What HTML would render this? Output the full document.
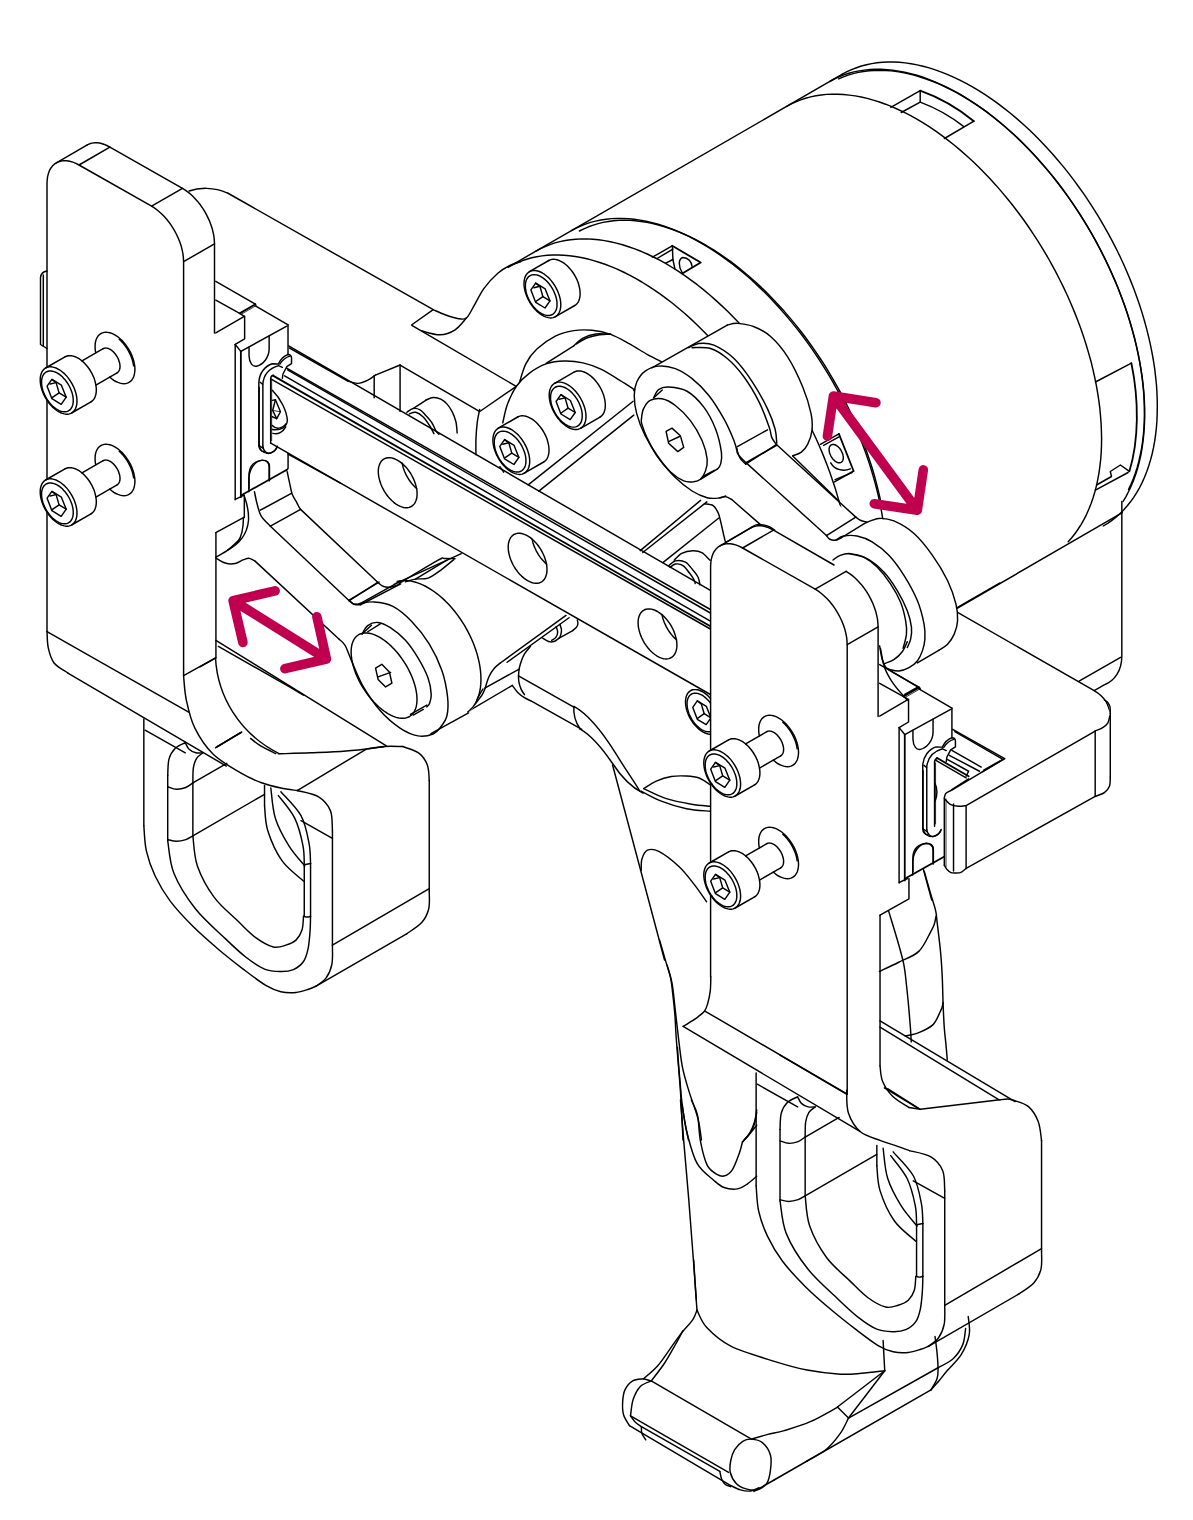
<!DOCTYPE html>
<html><head><meta charset="utf-8"><title>Gripper</title>
<style>
html,body{margin:0;padding:0;background:#fff;}
body{width:1193px;height:1520px;overflow:hidden;font-family:"Liberation Sans",sans-serif;}
svg{display:block}
svg path{fill:none;stroke:#000;stroke-width:1.45;vector-effect:non-scaling-stroke;stroke-linecap:round;stroke-linejoin:round}
svg path.ar{stroke:#c0004e;stroke-width:9.6}
svg path.t{stroke-width:0.8}
svg path.w{fill:#fff;stroke:none}
svg path.wf{fill:#fff}
svg path.b{stroke-width:1.8}
</style></head><body>
<svg width="1193" height="1520" viewBox="0 0 1193 1520">
<g transform="translate(0,0) scale(1.000000)">
<path d="M508.1,267.2 L842.4,74.2"/>
<path d="M571.5,230.6 L576.1,228.1 L580.7,226.0 L585.5,224.1 L590.5,222.4 L595.6,221.1 L600.8,220.0 L606.1,219.2 L611.5,218.6 L617.0,218.4 L622.7,218.4 L628.4,218.7 L634.2,219.3 L640.1,220.1 L646.0,221.2 L652.1,222.6 L658.1,224.3 L664.3,226.2 L670.4,228.4 L676.7,230.9 L682.9,233.6 L689.2,236.6 L695.4,239.9 L701.7,243.4 L708.0,247.1 L714.3,251.1 L720.6,255.3 L726.8,259.8 L733.0,264.5 L739.2,269.4 L745.3,274.5 L751.4,279.8 L757.4,285.4 L763.4,291.1 L769.3,297.1 L775.1,303.2 L780.8,309.5 L786.5,316.0 L792.0,322.6 L797.5,329.4 L802.8,336.3 L808.0,343.4 L813.1,350.6 L818.0,357.9 L822.8,365.4 L827.5,372.9 L832.1,380.6 L836.4,388.3 L840.7,396.1 L844.7,404.0 L848.6,412.0 L852.4,420.0 L855.9,428.0 L859.3,436.1 L862.5,444.2 L865.5,452.3 L868.3,460.4 L870.9,468.5 L873.3,476.6 L875.6,484.7 L877.6,492.7 L879.4,500.7 L881.0,508.7 L882.4,516.6 L883.6,524.4"/>
<path d="M579.4,231.0 L583.9,228.8 L588.5,226.8 L593.3,225.1 L598.1,223.6 L603.1,222.4 L608.3,221.5 L613.5,220.8 L618.8,220.4 L624.3,220.3 L629.8,220.4 L635.4,220.8 L641.1,221.5 L646.9,222.4 L652.7,223.6 L658.6,225.1 L664.5,226.8 L670.5,228.8 L676.6,231.0 L682.6,233.5 L688.7,236.2 L694.8,239.2 L700.9,242.5 L707.1,246.0 L713.2,249.7 L719.3,253.6 L725.4,257.8 L731.5,262.2 L737.6,266.8 L743.6,271.7 L749.5,276.7 L755.5,282.0 L761.3,287.4 L767.1,293.1 L772.8,298.9 L778.5,304.9 L784.1,311.1 L789.5,317.4 L794.9,323.9 L800.2,330.5 L805.4,337.3 L810.4,344.2 L815.4,351.3 L820.2,358.5 L824.9,365.7 L829.4,373.1 L833.8,380.6 L838.1,388.1 L842.2,395.7 L846.1,403.4 L849.9,411.2 L853.5,419.0 L857.0,426.8 L860.3,434.7 L863.4,442.6 L866.3,450.5 L869.0,458.4 L871.6,466.3 L874.0,474.2 L876.1,482.1 L878.1,489.9 L879.9,497.7 L881.5,505.5"/>
<path d="M786.7,106.4 L791.2,103.9 L795.9,101.8 L800.7,99.9 L805.6,98.2 L810.7,96.9 L815.9,95.8 L821.2,95.0 L826.6,94.4 L832.2,94.2 L837.8,94.2 L843.5,94.5 L849.3,95.1 L855.2,95.9 L861.2,97.0 L867.2,98.4 L873.3,100.1 L879.4,102.0 L885.6,104.2 L891.8,106.7 L898.1,109.5 L904.3,112.4 L910.6,115.7 L916.9,119.2 L923.2,122.9 L929.5,126.9 L935.8,131.2 L942.0,135.6 L948.2,140.3 L954.4,145.2 L960.5,150.4 L966.6,155.7 L972.7,161.3 L978.6,167.0 L984.5,173.0 L990.3,179.1 L996.1,185.4 L1001.7,191.9 L1007.2,198.5 L1012.7,205.3 L1018.0,212.2 L1023.2,219.3 L1028.3,226.5 L1033.2,233.9 L1038.1,241.3 L1042.7,248.9 L1047.3,256.5 L1051.7,264.3 L1055.9,272.1 L1059.9,280.0 L1063.8,287.9 L1067.6,296.0 L1071.1,304.0 L1074.5,312.1 L1077.7,320.2 L1080.7,328.3 L1083.5,336.4 L1086.1,344.5 L1088.5,352.6 L1090.8,360.7 L1092.8,368.8 L1094.6,376.8 L1096.2,384.7 L1097.6,392.6 L1098.8,400.4 L1099.8,408.2 L1100.5,415.8 L1101.1,423.4 L1101.4,430.8 L1101.6,438.2 L1101.5,445.4 L1101.2,452.5 L1100.7,459.4 L1099.9,466.2 L1099.0,472.8 L1097.8,479.3 L1096.5,485.6 L1094.9,491.7 L1093.1,497.7 L1091.1,503.4 L1088.9,509.0 L1086.6,514.3 L1084.0,519.4 L1081.2,524.3 L1078.2,529.0 L1075.1,533.5 L1071.7,537.7 L1068.2,541.7"/>
<path d="M829.8,81.5 L834.3,79.0 L839.0,76.9 L843.9,74.9 L848.8,73.3 L853.9,71.9 L859.2,70.9 L864.5,70.1 L870.0,69.5 L875.6,69.3 L881.2,69.3 L887.0,69.6 L892.8,70.2 L898.7,71.1 L904.7,72.2 L910.8,73.7 L916.9,75.3 L923.1,77.3 L929.3,79.6 L935.6,82.1 L941.8,84.8 L948.1,87.9 L954.4,91.2 L960.8,94.7 L967.1,98.5 L973.4,102.6 L979.7,106.8 L986.0,111.4 L992.2,116.1 L998.4,121.1 L1004.6,126.3 L1010.7,131.7 L1016.8,137.3 L1022.7,143.1 L1028.6,149.1 L1034.5,155.3 L1040.2,161.7 L1045.9,168.2 L1051.4,174.9 L1056.9,181.8 L1062.2,188.8 L1067.4,195.9 L1072.5,203.2 L1077.4,210.6 L1082.2,218.1 L1086.9,225.7 L1091.4,233.4 L1095.8,241.2 L1100.0,249.1 L1104.0,257.1 L1107.9,265.1 L1111.6,273.1 L1115.1,281.2 L1118.5,289.3 L1121.6,297.5 L1124.6,305.6 L1127.4,313.8 L1130.0,322.0 L1132.3,330.1 L1134.5,338.2 L1136.5,346.3 L1138.2,354.3 L1139.8,362.3 L1141.1,370.2 L1142.3,378.0 L1143.2,385.8 L1143.9,393.4 L1144.4,401.0 L1144.6,408.4 L1144.7,415.8 L1144.5,423.0 L1144.1,430.0 L1143.5,437.0 L1142.7,443.7 L1141.7,450.4 L1140.5,456.8 L1139.0,463.1 L1137.4,469.1 L1135.5,475.0 L1133.4,480.7 L1131.1,486.2 L1128.6,491.5 L1126.0,496.6 L1123.1,501.4"/>
<path d="M838.7,78.9 L843.4,76.9 L848.2,75.1 L853.2,73.6 L858.3,72.4 L863.5,71.5 L868.9,70.8 L874.3,70.5 L879.8,70.3 L885.5,70.5 L891.2,70.9 L897.0,71.6 L902.8,72.6 L908.8,73.9 L914.8,75.4 L920.8,77.2 L926.9,79.2 L933.1,81.5 L939.3,84.1 L945.5,87.0 L951.7,90.1 L957.9,93.4 L964.1,97.0 L970.4,100.8 L976.6,104.9 L982.8,109.2 L989.0,113.7 L995.1,118.5 L1001.2,123.5 L1007.3,128.7 L1013.3,134.0 L1019.2,139.6 L1025.1,145.4 L1030.9,151.4 L1036.6,157.6 L1042.3,163.9 L1047.8,170.4 L1053.3,177.0 L1058.6,183.8 L1063.8,190.8 L1068.9,197.9 L1073.9,205.1 L1078.8,212.4 L1083.5,219.8 L1088.0,227.3 L1092.5,235.0 L1096.7,242.7 L1100.9,250.5 L1104.8,258.3 L1108.6,266.2 L1112.2,274.2 L1115.7,282.1 L1118.9,290.2 L1122.0,298.2 L1124.9,306.2 L1127.6,314.3 L1130.1,322.3 L1132.4,330.3 L1134.6,338.3 L1136.5,346.3 L1138.2,354.2 L1139.7,362.1 L1141.0,369.9 L1142.1,377.6 L1143.0,385.2 L1143.7,392.8 L1144.1,400.2 L1144.4,407.5 L1144.4,414.8 L1144.3,421.9 L1143.9,428.8 L1143.3,435.6 L1142.5,442.3 L1141.5,448.8 L1140.2,455.2 L1138.8,461.4 L1137.2,467.4 L1135.3,473.2 L1133.3,478.8 L1131.0,484.2 L1128.6,489.4"/>
<path d="M842.4,74.2 L847.0,71.7 L851.6,69.6 L856.5,67.7 L861.4,66.0 L866.5,64.7 L871.7,63.6 L877.0,62.8 L882.5,62.2 L888.0,62.0 L893.6,62.0 L899.4,62.3 L905.2,62.9 L911.1,63.7 L917.1,64.9 L923.1,66.3 L929.2,67.9 L935.3,69.9 L941.5,72.1 L947.8,74.6 L954.0,77.3 L960.3,80.3 L966.6,83.6 L972.9,87.1 L979.2,90.9 L985.5,94.9 L991.7,99.1 L998.0,103.6 L1004.2,108.3 L1010.4,113.2 L1016.5,118.4 L1022.6,123.7 L1028.7,129.3 L1034.6,135.1 L1040.5,141.0 L1046.4,147.2 L1052.1,153.5 L1057.7,160.0 L1063.3,166.6 L1068.7,173.4 L1074.0,180.4 L1079.2,187.5 L1084.3,194.7 L1089.3,202.1 L1094.1,209.6 L1098.8,217.1 L1103.3,224.8 L1107.7,232.6 L1111.9,240.4 L1116.0,248.3 L1119.9,256.3 L1123.6,264.3 L1127.1,272.3 L1130.5,280.4 L1133.7,288.5 L1136.7,296.7 L1139.5,304.8 L1142.1,312.9 L1144.5,321.0 L1146.7,329.1 L1148.7,337.2 L1150.5,345.2 L1152.1,353.1 L1153.5,361.0 L1154.7,368.9 L1155.6,376.6 L1156.4,384.3 L1156.9,391.8 L1157.2,399.3 L1157.3,406.6 L1157.2,413.8 L1156.9,420.9 L1156.4,427.8 L1155.6,434.6 L1154.7,441.2 L1153.5,447.7 L1152.1,454.0 L1150.5,460.1 L1148.7,466.0 L1146.7,471.8 L1144.5,477.3 L1142.1,482.6 L1139.5,487.8 L1136.7,492.7 L1133.7,497.3 L1130.5,501.8 L1127.1,506.0 L1123.6,509.9 L1119.9,513.7 L1116.0,517.1 L1111.9,520.4 L1107.7,523.3 L1103.3,526.0"/>
<path d="M227.6,193.0 L433.3,309.7"/>
<path d="M890.8,107.3 L920.2,90.7"/>
<path d="M920.2,90.7 Q949,101 973.9,121.2" class="b"/>
<path d="M973.9,121.2 L944.4,138.5"/>
<path d="M920.2,90.7 L920.2,102.1 L901.2,112.5"/>
<path d="M920.2,102.1 Q944,111 963.5,126.4"/>
<path d="M1095.4,382 L1131.4,363.2"/>
<path d="M1131.4,363.2 C1139,400 1139,440 1129.4,471.3" class="b"/>
<path d="M1095.4,490.1 L1128.1,472.5"/>
<path d="M1096.5,485 L1111.5,476.5 L1110.3,471.5 L1120.4,465 L1129.4,471.3"/>
</g>
<g transform="translate(0,0) scale(1.000000)">
<path d="M652.4,257.2 L672.2,245.8"/>
<path d="M657.1,258.5 L672.9,249.1"/>
<path d="M672.2,245.8 L700.7,262.5 L682.3,273.6" class="b"/>
<path d="M672.4,246.5 L672.9,259.5 L674.9,268.9"/>
<path d="M665.8,263.2 L672.9,259.5"/>
<path d="M682.3,272.9 C678.2,266.2 678.2,258.8 682.9,257.5 C688.3,257.5 691.6,262.2 692,266.2"/>
<path d="M820.4,444.3 L838.9,433.9"/>
<path d="M823.6,445.4 L839.4,436.7"/>
<path d="M838.9,433.9 L853.6,471.0" class="b"/>
<path d="M853.6,471.0 L834.5,481.9"/>
<path d="M852.0,472.6 L835.1,479.7"/>
<path d="M836.2,461.8 L836.9,462.2 L837.7,462.5 L838.4,462.7 L839.1,462.8 L839.8,462.8 L840.4,462.6 L841.0,462.4 L841.5,462.1 L841.9,461.7 L842.4,461.3 L842.7,460.7 L843.0,460.0 L843.1,459.3 L843.3,458.5 L843.3,457.7 L843.3,456.8 L843.1,455.9 L843.0,455.0 L842.7,454.0 L842.4,453.1 L841.9,452.1 L841.5,451.2 L841.0,450.2 L840.4,449.4 L839.8,448.5 L839.1,447.8 L838.4,447.1 L837.7,446.4 L836.9,445.9 L836.2,445.4 L835.5,445.0 L834.7,444.7 L834.0,444.5 L833.3,444.4 L832.6,444.4 L832.0,444.6 L831.4,444.8 L830.9,445.1 L830.5,445.5 L830.1,445.9 L829.7,446.5 L829.4,447.2 L829.3,447.9 L829.1,448.7 L829.1,449.5 L829.1,450.4 L829.3,451.3 L829.4,452.2 L829.7,453.2 L830.1,454.1 L830.5,455.1 L830.9,456.0 L831.4,457.0 L832.0,457.8 L832.6,458.7 L833.3,459.4 L834.0,460.1 L834.7,460.8 L835.5,461.3 L836.2,461.8 Z"/>
<path d="M830.7,462.8 C835,470.4 843.8,471.5 850.3,468.8"/>
</g>
<g transform="translate(893,480) scale(0.251467)">
<path d="M255,510 L912,130"/>
<path d="M910,85 L910,700 C910,760 880,800 840,815 L800,838"/>
<path d="M740,800 L905,705"/>
<path d="M255,525 L800,838 C840,862 860,890 860,930"/>
</g>
<g transform="translate(0,0) scale(1.000000)">
<path d="M508.2,267.2 L512.6,264.8 L517.2,262.7 L521.9,260.8 L526.7,259.2 L531.7,257.8 L536.8,256.7 L542.0,255.9 L547.3,255.3 L552.7,255.0 L558.2,255.0 L563.8,255.2 L569.5,255.7 L575.2,256.5 L581.1,257.5 L587.0,258.8 L592.9,260.4 L598.9,262.2 L605.0,264.3 L611.1,266.6 L617.2,269.2 L623.3,272.0 L629.5,275.1 L635.6,278.4 L641.8,282.0 L648.0,285.8 L654.1,289.8 L660.3,294.1 L666.4,298.6 L672.5,303.3 L678.5,308.2 L684.5,313.3 L690.5,318.6 L696.4,324.2 L702.2,329.9 L707.9,335.8 L713.6,341.8"/>
<path d="M536.0,251.1 L540.6,248.6 L545.2,246.5 L550.0,244.6 L554.9,242.9 L560.0,241.6 L565.2,240.5 L570.5,239.7 L575.9,239.2 L581.4,238.9 L587.1,238.9 L592.8,239.2 L598.6,239.8 L604.4,240.6 L610.4,241.7 L616.4,243.1 L622.5,244.7 L628.6,246.7 L634.8,248.9 L641.0,251.3 L647.2,254.0 L653.4,257.0 L659.7,260.2 L666.0,263.7 L672.3,267.5 L678.5,271.4 L684.8,275.6 L691.0,280.1 L697.2,284.7 L703.4,289.6 L709.5,294.7 L715.6,300.1 L721.6,305.6 L727.6,311.3 L733.5,317.2 L739.3,323.3 L745.0,329.6 L750.6,336.1 L756.2,342.7 L761.6,349.5 L766.9,356.4 L772.1,363.4 L777.2,370.6 L782.2,377.9 L787.0,385.3 L791.7,392.9 L796.2,400.5 L800.6,408.2 L804.8,416.0 L808.9,423.9 L812.8,431.8 L816.6,439.8 L820.1,447.8 L823.5,455.9 L826.7,464.0 L829.7,472.1 L832.5,480.2 L835.2,488.3 L837.6,496.4 L839.9,504.4 L841.9,512.5"/>
</g>
<g transform="translate(440,150) scale(0.251467)">
<path d="M-27.0,635.0 C-19.2,638.3 3.8,649.2 20.0,655.0 C36.2,660.8 55.8,667.8 70.0,670.0 C84.2,672.2 94.2,676.3 105.0,668.0 C115.8,659.7 123.3,639.7 135.0,620.0 C146.7,600.3 159.2,571.7 175.0,550.0 C190.8,528.3 212.5,505.3 230.0,490.0 C247.5,474.7 264.7,465.7 280.0,458.0 C295.3,450.3 315.0,446.3 322.0,444.0"/>
<path d="M-27.0,635.0 L-112.0,695.0"/>
<path d="M-112.0,697.0 L303.0,940.0"/>
<path d="M-72.0,720.0 C-60.0,722.5 -22.0,735.8 0.0,735.0 C22.0,734.2 42.5,726.2 60.0,715.0 C77.5,703.8 97.5,675.8 105.0,668.0"/>
</g>
<g transform="translate(500,220) scale(0.184409)">
<path d="M100.0,900.0 C106.7,880.0 123.3,813.3 140.0,780.0 C156.7,746.7 173.3,725.0 200.0,700.0 C226.7,675.0 266.7,646.7 300.0,630.0 C333.3,613.3 366.7,605.3 400.0,600.0 C433.3,594.7 466.7,594.7 500.0,598.0 C533.3,601.3 566.7,608.0 600.0,620.0 C633.3,632.0 666.7,651.7 700.0,670.0 C733.3,688.3 770.0,713.3 800.0,730.0 C830.0,746.7 866.7,763.3 880.0,770.0"/>
<path d="M0.0,1180.0 L15.0,1100.0 L40.0,1000.0 L90.0,900.0 L160.0,830.0 L250.0,780.0 L350.0,765.0 L450.0,775.0 L550.0,810.0 L650.0,870.0 L730.0,920.0 L730.0,1000.0 L420.0,1180.0 Z" class="w"/>
<path d="M15.0,1100.0 C19.2,1083.3 27.5,1033.3 40.0,1000.0 C52.5,966.7 70.0,928.3 90.0,900.0 C110.0,871.7 133.3,850.0 160.0,830.0 C186.7,810.0 218.3,790.8 250.0,780.0 C281.7,769.2 316.7,765.8 350.0,765.0 C383.3,764.2 416.7,767.5 450.0,775.0 C483.3,782.5 516.7,794.2 550.0,810.0 C583.3,825.8 620.0,851.7 650.0,870.0 C680.0,888.3 716.7,911.7 730.0,920.0"/>
<path d="M250.0,778.0 L400.0,682.0"/>
<path d="M400.0,682.0 C408.3,675.0 430.0,650.7 450.0,640.0 C470.0,629.3 495.0,621.3 520.0,618.0 C545.0,614.7 586.7,619.7 600.0,620.0"/>
<path d="M415.0,672.0 C424.2,666.7 449.2,648.3 470.0,640.0 C490.8,631.7 518.3,625.3 540.0,622.0 C561.7,618.7 590.0,620.3 600.0,620.0"/>
<path d="M725.0,925.0 L860.0,845.0"/>
</g>
<g transform="translate(0,0) scale(1.000000)">
<path d="M524.0,283.6 L524.1,281.4 L524.4,279.4 L524.9,277.6 L525.6,275.9 L526.5,274.4 L527.5,273.2 L528.8,272.1 L530.1,271.4 L549.5,260.1 L551.0,259.6 L552.6,259.3 L554.3,259.3 L556.1,259.6 L558.0,260.1 L559.9,260.8 L561.8,261.8 L563.7,263.0 L565.6,264.5 L567.5,266.1 L569.3,267.9 L571.0,269.9 L572.6,272.1 L574.1,274.3 L575.4,276.7 L576.6,279.1 L577.7,281.6 L578.6,284.1 L579.3,286.5 L579.8,289.0 L580.1,291.3 L580.2,293.6 L580.1,295.8 L579.8,297.8 L579.3,299.6 L578.6,301.3 L577.7,302.8 L576.6,304.0 L575.4,305.1 L574.1,305.9 L554.7,317.1 L553.2,317.6 L551.6,317.9 L549.9,317.9 L548.1,317.6 L546.2,317.1 L544.3,316.4 L542.4,315.4 L540.5,314.2 L538.6,312.7 L536.7,311.1 L534.9,309.3 L533.2,307.3 L531.6,305.1 L530.1,302.9 L528.8,300.5 L527.5,298.1 L526.5,295.6 L525.6,293.1 L524.9,290.7 L524.4,288.2 L524.1,285.9 Z" class="w"/>
<path d="M542.4,315.4 L544.3,316.4 L546.2,317.1 L548.1,317.6 L549.9,317.9 L551.6,317.9 L553.2,317.6 L554.7,317.0 L556.0,316.3 L557.3,315.2 L558.3,314.0 L559.2,312.5 L559.9,310.8 L560.4,309.0 L560.7,307.0 L560.8,304.8 L560.7,302.5 L560.4,300.2 L559.9,297.7 L559.2,295.3 L558.3,292.8 L557.3,290.3 L556.0,287.9 L554.7,285.5 L553.2,283.3 L551.6,281.1 L549.9,279.1 L548.1,277.3 L546.2,275.7 L544.3,274.2 L542.4,273.0 L540.5,272.0 L538.6,271.3 L536.7,270.8 L534.9,270.5 L533.2,270.5 L531.6,270.8 L530.1,271.4 L528.8,272.1 L527.5,273.2 L526.5,274.4 L525.6,275.9 L524.9,277.6 L524.4,279.4 L524.1,281.4 L524.0,283.6 L524.1,285.9 L524.4,288.2 L524.9,290.7 L525.6,293.1 L526.5,295.6 L527.5,298.1 L528.8,300.5 L530.1,302.9 L531.6,305.1 L533.2,307.3 L534.9,309.3 L536.7,311.1 L538.6,312.7 L540.5,314.2 L542.4,315.4 Z"/>
<path d="M541.2,313.4 L542.9,314.3 L544.5,314.9 L546.1,315.3 L547.6,315.5 L549.1,315.5 L550.5,315.3 L551.8,314.8 L553.0,314.1 L554.0,313.3 L554.9,312.2 L555.7,310.9 L556.3,309.5 L556.7,307.9 L557.0,306.1 L557.0,304.2 L557.0,302.3 L556.7,300.2 L556.3,298.1 L555.7,296.0 L554.9,293.9 L554.0,291.7 L553.0,289.7 L551.8,287.6 L550.5,285.7 L549.1,283.8 L547.6,282.1 L546.1,280.5 L544.5,279.1 L542.9,277.9 L541.2,276.8 L539.5,275.9 L537.9,275.3 L536.3,274.9 L534.8,274.7 L533.3,274.7 L531.9,274.9 L530.6,275.4 L529.4,276.1 L528.4,276.9 L527.5,278.0 L526.7,279.3 L526.1,280.7 L525.7,282.3 L525.4,284.1 L525.4,285.9 L525.4,287.9 L525.7,290.0 L526.1,292.1 L526.7,294.2 L527.5,296.3 L528.4,298.5 L529.4,300.5 L530.6,302.6 L531.9,304.5 L533.3,306.4 L534.8,308.1 L536.3,309.7 L537.9,311.1 L539.5,312.3 L541.2,313.4 Z"/>
<path d="M535.7,283.1 L545.2,288.9 L550.0,300.9 L545.0,308.0 L535.7,302.4 L530.9,289.9 Z"/>
<path d="M535.7,283.1 L539.9,286.3 L542.9,296.6 L550.0,300.9"/>
<path d="M533.9,287.7 L539.9,286.3"/>
<path d="M542.9,296.6 L535.9,301.4"/>
<path d="M529.4,271.7 L548.8,260.5"/>
<path d="M555.4,316.7 L574.8,305.5"/>
<path d="M574.8,305.5 L576.1,304.6 L577.2,303.4 L578.2,302.1 L578.9,300.5 L579.5,298.7 L579.9,296.8 L580.1,294.7 L580.1,292.5 L579.9,290.2 L579.5,287.8 L578.9,285.3 L578.2,282.8 L577.2,280.3 L576.1,277.9 L574.8,275.5 L573.4,273.2 L571.8,271.0 L570.1,268.9 L568.4,267.0 L566.6,265.3 L564.7,263.7 L562.8,262.4 L560.8,261.3 L558.9,260.4 L557.0,259.8 L555.2,259.4 L553.5,259.3 L551.8,259.4 L550.2,259.9 L548.8,260.5"/>
<path d="M549.2,395.2 L549.3,393.0 L549.6,391.0 L550.1,389.2 L550.8,387.5 L551.7,386.0 L552.8,384.8 L554.0,383.7 L555.3,382.9 L574.7,371.8 L576.2,371.2 L577.8,370.9 L579.5,370.9 L581.3,371.2 L583.2,371.7 L585.1,372.4 L587.0,373.4 L588.9,374.6 L590.8,376.1 L592.7,377.7 L594.5,379.5 L596.2,381.5 L597.8,383.7 L599.3,385.9 L600.6,388.3 L601.9,390.7 L602.9,393.2 L603.8,395.7 L604.5,398.1 L605.0,400.6 L605.3,402.9 L605.4,405.2 L605.3,407.4 L605.0,409.4 L604.5,411.2 L603.8,412.9 L602.9,414.4 L601.9,415.6 L600.6,416.7 L599.3,417.4 L579.9,428.6 L578.4,429.2 L576.8,429.5 L575.1,429.5 L573.3,429.2 L571.4,428.7 L569.5,428.0 L567.6,427.0 L565.7,425.8 L563.8,424.3 L561.9,422.7 L560.1,420.9 L558.4,418.9 L556.8,416.7 L555.3,414.5 L554.0,412.1 L552.8,409.7 L551.7,407.2 L550.8,404.7 L550.1,402.3 L549.6,399.8 L549.3,397.5 Z" class="w"/>
<path d="M567.6,427.0 L569.5,428.0 L571.4,428.7 L573.3,429.2 L575.1,429.5 L576.8,429.5 L578.4,429.2 L579.9,428.6 L581.2,427.9 L582.5,426.8 L583.5,425.6 L584.4,424.1 L585.1,422.4 L585.6,420.6 L585.9,418.6 L586.0,416.4 L585.9,414.1 L585.6,411.8 L585.1,409.3 L584.4,406.9 L583.5,404.4 L582.5,401.9 L581.2,399.5 L579.9,397.1 L578.4,394.9 L576.8,392.7 L575.1,390.7 L573.3,388.9 L571.4,387.3 L569.5,385.8 L567.6,384.6 L565.7,383.6 L563.8,382.9 L561.9,382.4 L560.1,382.1 L558.4,382.1 L556.8,382.4 L555.3,383.0 L554.0,383.7 L552.7,384.8 L551.7,386.0 L550.8,387.5 L550.1,389.2 L549.6,391.0 L549.3,393.0 L549.2,395.2 L549.3,397.5 L549.6,399.8 L550.1,402.3 L550.8,404.7 L551.7,407.2 L552.7,409.7 L554.0,412.1 L555.3,414.5 L556.8,416.7 L558.4,418.9 L560.1,420.9 L561.9,422.7 L563.8,424.3 L565.7,425.8 L567.6,427.0 Z"/>
<path d="M566.4,425.0 L568.1,425.9 L569.7,426.5 L571.3,426.9 L572.8,427.1 L574.3,427.1 L575.7,426.9 L577.0,426.4 L578.2,425.7 L579.2,424.9 L580.1,423.8 L580.9,422.5 L581.5,421.1 L581.9,419.5 L582.2,417.7 L582.2,415.8 L582.2,413.9 L581.9,411.8 L581.5,409.7 L580.9,407.6 L580.1,405.5 L579.2,403.3 L578.2,401.3 L577.0,399.2 L575.7,397.3 L574.3,395.4 L572.8,393.7 L571.3,392.1 L569.7,390.7 L568.1,389.5 L566.4,388.4 L564.7,387.5 L563.1,386.9 L561.5,386.5 L560.0,386.3 L558.5,386.3 L557.1,386.5 L555.8,387.0 L554.6,387.7 L553.6,388.5 L552.7,389.6 L551.9,390.9 L551.3,392.3 L550.9,393.9 L550.6,395.7 L550.6,397.6 L550.6,399.5 L550.9,401.6 L551.3,403.7 L551.9,405.8 L552.7,407.9 L553.6,410.1 L554.6,412.1 L555.8,414.2 L557.1,416.1 L558.5,418.0 L560.0,419.7 L561.5,421.3 L563.1,422.7 L564.7,423.9 L566.4,425.0 Z"/>
<path d="M560.9,394.7 L570.4,400.5 L575.2,412.5 L570.2,419.6 L560.9,414.0 L556.1,401.5 Z"/>
<path d="M560.9,394.7 L565.1,397.9 L568.1,408.2 L575.2,412.5"/>
<path d="M559.1,399.3 L565.1,397.9"/>
<path d="M568.1,408.2 L561.1,413.0"/>
<path d="M554.6,383.3 L574.0,372.1"/>
<path d="M580.6,428.3 L600.0,417.1"/>
<path d="M600.0,417.1 L601.3,416.2 L602.4,415.0 L603.4,413.7 L604.1,412.1 L604.7,410.3 L605.1,408.4 L605.3,406.3 L605.3,404.1 L605.1,401.8 L604.7,399.4 L604.1,396.9 L603.4,394.4 L602.4,391.9 L601.3,389.5 L600.0,387.1 L598.6,384.8 L597.0,382.6 L595.3,380.5 L593.6,378.6 L591.8,376.9 L589.9,375.3 L588.0,374.0 L586.0,372.9 L584.1,372.0 L582.2,371.4 L580.4,371.0 L578.7,370.9 L577.0,371.0 L575.4,371.5 L574.0,372.1"/>
<path d="M492.9,440.1 L493.0,437.9 L493.3,435.9 L493.8,434.1 L494.5,432.4 L495.4,430.9 L496.4,429.7 L497.7,428.6 L499.0,427.9 L518.4,416.6 L519.9,416.1 L521.5,415.8 L523.2,415.8 L525.0,416.1 L526.9,416.6 L528.8,417.3 L530.7,418.3 L532.6,419.5 L534.5,421.0 L536.4,422.6 L538.2,424.4 L539.9,426.4 L541.5,428.6 L543.0,430.8 L544.3,433.2 L545.5,435.6 L546.6,438.1 L547.5,440.6 L548.2,443.0 L548.7,445.5 L549.0,447.8 L549.1,450.1 L549.0,452.3 L548.7,454.3 L548.2,456.1 L547.5,457.8 L546.6,459.3 L545.5,460.5 L544.3,461.6 L543.0,462.4 L523.6,473.6 L522.1,474.1 L520.5,474.4 L518.8,474.4 L517.0,474.1 L515.1,473.6 L513.2,472.9 L511.3,471.9 L509.4,470.7 L507.5,469.2 L505.6,467.6 L503.8,465.8 L502.1,463.8 L500.5,461.6 L499.0,459.4 L497.7,457.0 L496.4,454.6 L495.4,452.1 L494.5,449.6 L493.8,447.2 L493.3,444.7 L493.0,442.4 Z" class="w"/>
<path d="M511.3,471.9 L513.2,472.9 L515.1,473.6 L517.0,474.1 L518.8,474.4 L520.5,474.4 L522.1,474.1 L523.6,473.5 L524.9,472.8 L526.2,471.7 L527.2,470.5 L528.1,469.0 L528.8,467.3 L529.3,465.5 L529.6,463.5 L529.7,461.3 L529.6,459.0 L529.3,456.7 L528.8,454.2 L528.1,451.8 L527.2,449.3 L526.2,446.8 L524.9,444.4 L523.6,442.0 L522.1,439.8 L520.5,437.6 L518.8,435.6 L517.0,433.8 L515.1,432.2 L513.2,430.7 L511.3,429.5 L509.4,428.5 L507.5,427.8 L505.6,427.3 L503.8,427.0 L502.1,427.0 L500.5,427.3 L499.0,427.9 L497.7,428.6 L496.4,429.7 L495.4,430.9 L494.5,432.4 L493.8,434.1 L493.3,435.9 L493.0,437.9 L492.9,440.1 L493.0,442.4 L493.3,444.7 L493.8,447.2 L494.5,449.6 L495.4,452.1 L496.4,454.6 L497.7,457.0 L499.0,459.4 L500.5,461.6 L502.1,463.8 L503.8,465.8 L505.6,467.6 L507.5,469.2 L509.4,470.7 L511.3,471.9 Z"/>
<path d="M510.1,469.9 L511.8,470.8 L513.4,471.4 L515.0,471.8 L516.5,472.0 L518.0,472.0 L519.4,471.8 L520.7,471.3 L521.9,470.6 L522.9,469.8 L523.8,468.7 L524.6,467.4 L525.2,466.0 L525.6,464.4 L525.9,462.6 L525.9,460.7 L525.9,458.8 L525.6,456.7 L525.2,454.6 L524.6,452.5 L523.8,450.4 L522.9,448.2 L521.9,446.2 L520.7,444.1 L519.4,442.2 L518.0,440.3 L516.5,438.6 L515.0,437.0 L513.4,435.6 L511.8,434.4 L510.1,433.3 L508.4,432.4 L506.8,431.8 L505.2,431.4 L503.7,431.2 L502.2,431.2 L500.8,431.4 L499.5,431.9 L498.3,432.6 L497.3,433.4 L496.4,434.5 L495.6,435.8 L495.0,437.2 L494.6,438.8 L494.3,440.6 L494.3,442.4 L494.3,444.4 L494.6,446.5 L495.0,448.6 L495.6,450.7 L496.4,452.8 L497.3,455.0 L498.3,457.0 L499.5,459.1 L500.8,461.0 L502.2,462.9 L503.7,464.6 L505.2,466.2 L506.8,467.6 L508.4,468.8 L510.1,469.9 Z"/>
<path d="M504.6,439.6 L514.1,445.4 L518.9,457.4 L513.9,464.5 L504.6,458.9 L499.8,446.4 Z"/>
<path d="M504.6,439.6 L508.8,442.8 L511.8,453.1 L518.9,457.4"/>
<path d="M502.8,444.2 L508.8,442.8"/>
<path d="M511.8,453.1 L504.8,457.9"/>
<path d="M498.3,428.2 L517.7,417.0"/>
<path d="M524.3,473.2 L543.7,462.0"/>
<path d="M543.7,462.0 L545.0,461.1 L546.1,459.9 L547.1,458.6 L547.8,457.0 L548.4,455.2 L548.8,453.3 L549.0,451.2 L549.0,449.0 L548.8,446.7 L548.4,444.3 L547.8,441.8 L547.1,439.3 L546.1,436.8 L545.0,434.4 L543.7,432.0 L542.3,429.7 L540.7,427.5 L539.0,425.4 L537.3,423.5 L535.5,421.8 L533.6,420.2 L531.7,418.9 L529.7,417.8 L527.8,416.9 L525.9,416.3 L524.1,415.9 L522.4,415.8 L520.7,415.9 L519.1,416.4 L517.7,417.0"/>
</g>
<g transform="translate(300,150) scale(0.251467)">
<path d="M190.0,919.0 C196.7,920.5 216.7,928.7 230.0,928.0 C243.3,927.3 258.3,920.5 270.0,915.0 C281.7,909.5 295.0,898.3 300.0,895.0"/>
<path d="M300.0,895.0 L398.0,855.0"/>
<path d="M398.0,855.0 L398.0,1040.0"/>
<path d="M295.0,897.0 L295.0,985.0"/>
<path d="M398.0,855.0 L715.0,1040.0 L860.0,940.0"/>
</g>
<g transform="translate(440,380) scale(0.184409)">
<path d="M215.0,160.0 C212.8,171.7 205.3,203.3 202.0,230.0 C198.7,256.7 196.2,290.8 195.0,320.0 C193.8,349.2 195.0,390.8 195.0,405.0"/>
<path d="M325.0,470.0 L345.0,500.0"/>
</g>
<g transform="translate(520,400) scale(0.125733)">
<path d="M65.0,675.0 L900.0,10.0"/>
<path d="M150.0,725.0 L905.0,120.0"/>
</g>
<g transform="translate(0,0) scale(1.000000)">
<path d="M288.7,345.9 L710.4,590.4"/>
<path d="M289.5,348.0 L347.8,381.0"/>
<path d="M286.7,368.2 L710.4,609.5"/>
<path d="M287.6,369.9 L710.4,613.0"/>
<path d="M284.6,375.8 L710.4,621.2"/>
<path d="M273.0,375.6 L710.4,626.2" class="b"/>
<path d="M270.7,378.8 L710.4,629.0"/>
<path d="M270.7,443.2 L710.4,694.5"/>
</g>
<g transform="translate(0,0) scale(1.000000)">
<path d="M397.7,505.1 L399.7,506.1 L401.7,506.9 L403.7,507.5 L405.6,507.7 L407.4,507.7 L409.1,507.4 L410.7,506.8 L412.1,506.0 L413.4,504.9 L414.5,503.6 L415.4,502.0 L416.1,500.3 L416.7,498.3 L417.0,496.2 L417.1,493.9 L417.0,491.5 L416.7,489.0 L416.1,486.4 L415.4,483.8 L414.5,481.2 L413.4,478.6 L412.1,476.0 L410.7,473.5 L409.1,471.2 L407.4,468.9 L405.6,466.8 L403.7,464.9 L401.7,463.1 L399.7,461.6 L397.7,460.3 L395.7,459.3 L393.7,458.5 L391.7,457.9 L389.8,457.7 L388.0,457.7 L386.3,458.0 L384.7,458.6 L383.3,459.4 L382.0,460.5 L380.9,461.8 L380.0,463.4 L379.3,465.1 L378.7,467.1 L378.4,469.2 L378.3,471.5 L378.4,473.9 L378.7,476.4 L379.3,479.0 L380.0,481.6 L380.9,484.2 L382.0,486.8 L383.3,489.4 L384.7,491.9 L386.3,494.2 L388.0,496.5 L389.8,498.6 L391.7,500.5 L393.7,502.3 L395.7,503.8 L397.7,505.1 Z"/>
<path d="M402.2,463.3 L402.6,465.3 L403.1,467.3 L403.8,469.3 L404.5,471.3 L405.4,473.2 L406.3,475.2 L407.4,477.1 L408.5,479.0 L409.7,480.8 L411.0,482.5 L412.4,484.2 L413.8,485.7 L415.2,487.2 L416.7,488.5"/>
<path d="M527.6,580.7 L529.6,581.7 L531.6,582.5 L533.6,583.1 L535.5,583.3 L537.3,583.3 L539.0,583.0 L540.6,582.4 L542.0,581.6 L543.3,580.5 L544.4,579.2 L545.3,577.6 L546.0,575.9 L546.6,573.9 L546.9,571.8 L547.0,569.5 L546.9,567.1 L546.6,564.6 L546.0,562.0 L545.3,559.4 L544.4,556.8 L543.3,554.2 L542.0,551.6 L540.6,549.1 L539.0,546.8 L537.3,544.5 L535.5,542.4 L533.6,540.5 L531.6,538.7 L529.6,537.2 L527.6,535.9 L525.6,534.9 L523.6,534.1 L521.6,533.5 L519.7,533.3 L517.9,533.3 L516.2,533.6 L514.6,534.2 L513.2,535.0 L511.9,536.1 L510.8,537.4 L509.9,539.0 L509.2,540.7 L508.6,542.7 L508.3,544.8 L508.2,547.1 L508.3,549.5 L508.6,552.0 L509.2,554.6 L509.9,557.2 L510.8,559.8 L511.9,562.4 L513.2,565.0 L514.6,567.5 L516.2,569.8 L517.9,572.1 L519.7,574.2 L521.6,576.1 L523.6,577.9 L525.6,579.4 L527.6,580.7 Z"/>
<path d="M532.1,538.9 L532.5,540.9 L533.0,542.9 L533.7,544.9 L534.4,546.9 L535.3,548.8 L536.2,550.8 L537.3,552.7 L538.4,554.6 L539.6,556.4 L540.9,558.1 L542.3,559.8 L543.7,561.3 L545.1,562.8 L546.6,564.1"/>
<path d="M657.5,656.3 L659.5,657.3 L661.5,658.1 L663.5,658.7 L665.4,658.9 L667.2,658.9 L668.9,658.6 L670.5,658.0 L671.9,657.2 L673.2,656.1 L674.3,654.8 L675.2,653.2 L675.9,651.5 L676.5,649.5 L676.8,647.4 L676.9,645.1 L676.8,642.7 L676.5,640.2 L675.9,637.6 L675.2,635.0 L674.3,632.4 L673.2,629.8 L671.9,627.2 L670.5,624.7 L668.9,622.4 L667.2,620.1 L665.4,618.0 L663.5,616.1 L661.5,614.3 L659.5,612.8 L657.5,611.5 L655.5,610.5 L653.5,609.7 L651.5,609.1 L649.6,608.9 L647.8,608.9 L646.1,609.2 L644.5,609.8 L643.1,610.6 L641.8,611.7 L640.7,613.0 L639.8,614.6 L639.1,616.3 L638.5,618.3 L638.2,620.4 L638.1,622.7 L638.2,625.1 L638.5,627.6 L639.1,630.2 L639.8,632.8 L640.7,635.4 L641.8,638.0 L643.1,640.6 L644.5,643.1 L646.1,645.4 L647.8,647.7 L649.6,649.8 L651.5,651.7 L653.5,653.5 L655.5,655.0 L657.5,656.3 Z"/>
<path d="M662.0,614.5 L662.4,616.5 L662.9,618.5 L663.6,620.5 L664.3,622.5 L665.2,624.4 L666.1,626.4 L667.2,628.3 L668.3,630.2 L669.5,632.0 L670.8,633.7 L672.2,635.4 L673.6,636.9 L675.0,638.4 L676.5,639.7"/>
</g>
<g transform="translate(620,320) scale(0.167645)">
<path d="M85.0,450.0 L100.0,370.0 L150.0,305.0 L640.0,30.0 L700.0,20.0 L800.0,40.0 L900.0,100.0 L1000.0,220.0 L1090.0,400.0 L1140.0,560.0 L1145.0,660.0 L1120.0,740.0 L1080.0,790.0 L630.0,1050.0 L590.0,1062.0 L520.0,1060.0 L430.0,1020.0 L330.0,940.0 L230.0,820.0 L150.0,690.0 L100.0,560.0 Z" class="w"/>
<path d="M630.0,1050.0 L700.0,790.0 L1030.0,810.0 L2200.0,2050.0 L1850.0,2170.0 Z" class="w"/>
<path d="M700.0,790.0 C696.7,778.3 693.3,753.3 680.0,720.0 C666.7,686.7 645.0,635.0 620.0,590.0 C595.0,545.0 561.7,490.0 530.0,450.0 C498.3,410.0 463.3,376.7 430.0,350.0 C396.7,323.3 363.3,302.5 330.0,290.0 C296.7,277.5 260.0,272.5 230.0,275.0 C200.0,277.5 171.7,289.2 150.0,305.0 C128.3,320.8 110.8,345.8 100.0,370.0 C89.2,394.2 85.0,418.3 85.0,450.0 C85.0,481.7 89.2,520.0 100.0,560.0 C110.8,600.0 128.3,646.7 150.0,690.0 C171.7,733.3 200.0,778.3 230.0,820.0 C260.0,861.7 296.7,906.7 330.0,940.0 C363.3,973.3 398.3,1000.0 430.0,1020.0 C461.7,1040.0 493.3,1053.0 520.0,1060.0 C546.7,1067.0 571.7,1063.7 590.0,1062.0 C608.3,1060.3 623.3,1052.0 630.0,1050.0"/>
<path d="M128.0,590.0 C129.7,575.0 131.3,548.3 140.0,530.0 C148.7,511.7 161.7,490.0 180.0,480.0 C198.3,470.0 225.0,465.0 250.0,470.0 C275.0,475.0 301.7,488.3 330.0,510.0 C358.3,531.7 393.3,565.0 420.0,600.0 C446.7,635.0 473.3,681.7 490.0,720.0 C506.7,758.3 516.7,800.0 520.0,830.0 C523.3,860.0 516.7,880.0 510.0,900.0 C503.3,920.0 491.7,939.2 480.0,950.0 C468.3,960.8 456.7,963.3 440.0,965.0 C423.3,966.7 403.3,970.0 380.0,960.0 C356.7,950.0 326.7,930.0 300.0,905.0 C273.3,880.0 243.3,844.2 220.0,810.0 C196.7,775.8 175.0,731.7 160.0,700.0 C145.0,668.3 135.3,638.3 130.0,620.0 C124.7,601.7 126.3,605.0 128.0,590.0 Z"/>
<path d="M200.0,465.0 C205.0,456.7 215.0,425.8 230.0,415.0 C245.0,404.2 261.7,398.3 290.0,400.0 C318.3,401.7 365.0,405.0 400.0,425.0 C435.0,445.0 471.7,482.5 500.0,520.0 C528.3,557.5 552.5,605.0 570.0,650.0 C587.5,695.0 600.0,755.0 605.0,790.0 C610.0,825.0 604.2,843.3 600.0,860.0 C595.8,876.7 583.3,885.0 580.0,890.0"/>
<path d="M203.0,462.0 L252.0,418.0"/>
<path d="M480.0,950.0 L580.0,890.0"/>
<path d="M497.0,932.0 L563.0,897.0"/>
<path d="M275.0,665.0 L310.0,645.0 L360.0,690.0 L380.0,760.0 L345.0,785.0 L290.0,735.0 Z"/>
<path d="M290.0,725.0 L355.0,695.0"/>
<path d="M190.0,285.0 L640.0,30.0"/>
<path d="M640.0,30.0 C650.0,28.3 673.3,18.3 700.0,20.0 C726.7,21.7 766.7,26.7 800.0,40.0 C833.3,53.3 866.7,70.0 900.0,100.0 C933.3,130.0 968.3,170.0 1000.0,220.0 C1031.7,270.0 1066.7,343.3 1090.0,400.0 C1113.3,456.7 1130.8,516.7 1140.0,560.0 C1149.2,603.3 1148.3,630.0 1145.0,660.0 C1141.7,690.0 1130.8,718.3 1120.0,740.0 C1109.2,761.7 1095.0,778.3 1080.0,790.0 C1065.0,801.7 1038.3,806.7 1030.0,810.0"/>
<path d="M410.0,165.0 C420.0,160.8 445.0,142.5 470.0,140.0 C495.0,137.5 525.0,135.0 560.0,150.0 C595.0,165.0 641.7,193.3 680.0,230.0 C718.3,266.7 756.7,320.0 790.0,370.0 C823.3,420.0 857.5,483.3 880.0,530.0 C902.5,576.7 915.8,615.8 925.0,650.0 C934.2,684.2 933.3,720.8 935.0,735.0"/>
<path d="M430.0,165.0 C448.3,165.8 505.0,159.2 540.0,170.0 C575.0,180.8 606.7,201.7 640.0,230.0 C673.3,258.3 708.3,296.7 740.0,340.0 C771.7,383.3 805.0,440.0 830.0,490.0 C855.0,540.0 877.5,605.0 890.0,640.0 C902.5,675.0 898.0,683.0 905.0,700.0 C912.0,717.0 927.5,735.0 932.0,742.0"/>
<path d="M700.0,755.0 L880.0,655.0"/>
<path d="M750.0,860.0 L930.0,745.0"/>
<path d="M700.0,790.0 C703.3,796.7 711.7,818.3 720.0,830.0 C728.3,841.7 745.0,855.0 750.0,860.0"/>
</g>
<g transform="translate(800,500) scale(0.167645)">
<path d="M215.0,238.0 L395.0,135.0 L470.0,110.0 L560.0,125.0 L680.0,200.0 L790.0,330.0 L880.0,480.0 L930.0,620.0 L940.0,720.0 L920.0,800.0 L880.0,860.0 L830.0,895.0 L650.0,1000.0 L590.0,1020.0 L530.0,1010.0 Z" class="w"/>
</g>
<g transform="translate(720,440) scale(0.167645)">
<path d="M100.0,48.0 C102.0,55.0 102.8,75.5 112.0,90.0 C121.2,104.5 147.8,127.5 155.0,135.0"/>
<path d="M155.0,135.0 L635.0,570.0"/>
<path d="M635.0,570.0 C638.3,573.7 645.8,587.3 655.0,592.0 C664.2,596.7 679.2,599.2 690.0,598.0 C700.8,596.8 715.0,587.2 720.0,585.0"/>
<path d="M155.0,135.0 L340.0,30.0"/>
<path d="M340.0,30.0 L810.0,460.0"/>
<path d="M635.0,570.0 L810.0,460.0"/>
<path d="M720.0,585.0 L875.0,490.0"/>
<path d="M434.0,96.0 L710.0,365.0"/>
<path d="M810.0,460.0 C815.0,463.3 830.0,475.3 840.0,480.0 C850.0,484.7 865.0,486.7 870.0,488.0"/>
</g>
<g transform="translate(800,500) scale(0.167645)">
<path d="M395.0,135.0 C407.5,130.8 442.5,111.7 470.0,110.0 C497.5,108.3 525.0,110.0 560.0,125.0 C595.0,140.0 641.7,165.8 680.0,200.0 C718.3,234.2 756.7,283.3 790.0,330.0 C823.3,376.7 856.7,431.7 880.0,480.0 C903.3,528.3 920.0,580.0 930.0,620.0 C940.0,660.0 941.7,690.0 940.0,720.0 C938.3,750.0 930.0,776.7 920.0,800.0 C910.0,823.3 895.0,844.2 880.0,860.0 C865.0,875.8 838.3,889.2 830.0,895.0"/>
<path d="M830.0,895.0 L700.0,972.0"/>
<path d="M215.0,238.0 C222.5,234.2 239.2,218.8 260.0,215.0 C280.8,211.2 311.7,209.2 340.0,215.0 C368.3,220.8 398.3,230.8 430.0,250.0 C461.7,269.2 498.3,296.7 530.0,330.0 C561.7,363.3 591.7,405.0 620.0,450.0 C648.3,495.0 680.0,551.7 700.0,600.0 C720.0,648.3 732.5,701.7 740.0,740.0 C747.5,778.3 746.7,803.3 745.0,830.0 C743.3,856.7 737.5,878.3 730.0,900.0 C722.5,921.7 713.3,943.3 700.0,960.0 C686.7,976.7 668.3,990.0 650.0,1000.0 C631.7,1010.0 610.0,1018.3 590.0,1020.0 C570.0,1021.7 540.0,1011.7 530.0,1010.0"/>
<path d="M197.0,358.0 C204.2,353.3 222.8,336.3 240.0,330.0 C257.2,323.7 276.7,318.3 300.0,320.0 C323.3,321.7 353.3,326.7 380.0,340.0 C406.7,353.3 433.3,373.3 460.0,400.0 C486.7,426.7 516.7,465.0 540.0,500.0 C563.3,535.0 585.0,573.3 600.0,610.0 C615.0,646.7 624.2,688.3 630.0,720.0 C635.8,751.7 637.5,772.5 635.0,800.0 C632.5,827.5 618.3,870.8 615.0,885.0"/>
<path d="M290.0,320.0 C308.3,325.0 365.0,331.7 400.0,350.0 C435.0,368.3 470.0,398.3 500.0,430.0 C530.0,461.7 556.7,501.7 580.0,540.0 C603.3,578.3 625.8,623.3 640.0,660.0 C654.2,696.7 661.7,731.7 665.0,760.0 C668.3,788.3 664.2,810.0 660.0,830.0 C655.8,850.0 643.3,871.7 640.0,880.0"/>
<path d="M505.0,975.0 C514.2,971.2 542.5,963.7 560.0,952.0 C577.5,940.3 596.7,922.8 610.0,905.0 C623.3,887.2 635.0,855.0 640.0,845.0"/>
<path d="M475.0,870.0 C477.5,883.3 484.2,929.2 490.0,950.0 C495.8,970.8 503.3,985.0 510.0,995.0 C516.7,1005.0 526.7,1007.5 530.0,1010.0"/>
<path d="M530.0,1013.0 L715.0,1122.0"/>
<path d="M480.0,885.0 C484.2,904.2 491.7,964.2 505.0,1000.0 C518.3,1035.8 537.5,1067.8 560.0,1100.0 C582.5,1132.2 626.7,1177.5 640.0,1193.0"/>
<path d="M625.0,1160.0 L700.0,1118.0" class="b"/>
<path d="M700.0,1118.0 L716.0,1126.0"/>
</g>
<g transform="translate(300,340) scale(0.125733)">
<path d="M850.0,575.0 C858.3,570.0 882.5,548.3 900.0,545.0 C917.5,541.7 938.3,545.8 955.0,555.0 C971.7,564.2 984.2,582.5 1000.0,600.0 C1015.8,617.5 1036.7,640.0 1050.0,660.0 C1063.3,680.0 1070.8,705.0 1080.0,720.0 C1089.2,735.0 1100.8,745.0 1105.0,750.0"/>
<path d="M870.0,588.0 C878.3,585.8 901.7,571.0 920.0,575.0 C938.3,579.0 961.7,594.5 980.0,612.0 C998.3,629.5 1015.8,657.8 1030.0,680.0 C1044.2,702.2 1059.2,734.2 1065.0,745.0"/>
<path d="M905.0,542.0 L1000.0,480.0"/>
<path d="M1000.0,478.0 C1010.0,474.5 1040.0,458.3 1060.0,457.0 C1080.0,455.7 1101.7,461.2 1120.0,470.0 C1138.3,478.8 1155.0,493.3 1170.0,510.0 C1185.0,526.7 1198.3,546.7 1210.0,570.0 C1221.7,593.3 1233.3,621.7 1240.0,650.0 C1246.7,678.3 1248.3,725.0 1250.0,740.0"/>
</g>
<g transform="translate(600,520) scale(0.125733)">
<path d="M545.0,365.0 C554.2,358.3 577.5,330.0 600.0,325.0 C622.5,320.0 656.7,322.5 680.0,335.0 C703.3,347.5 723.3,380.0 740.0,400.0 C756.7,420.0 770.8,435.8 780.0,455.0 C789.2,474.2 792.5,505.0 795.0,515.0"/>
<path d="M557.0,377.0 C564.2,372.5 582.8,352.5 600.0,350.0 C617.2,347.5 641.7,350.3 660.0,362.0 C678.3,373.7 695.8,402.0 710.0,420.0 C724.2,438.0 737.2,455.8 745.0,470.0 C752.8,484.2 755.0,499.2 757.0,505.0"/>
<path d="M590.0,320.0 C600.0,310.8 625.0,277.5 650.0,265.0 C675.0,252.5 713.3,245.8 740.0,245.0 C766.7,244.2 787.5,247.5 810.0,260.0 C832.5,272.5 864.2,310.0 875.0,320.0"/>
</g>
<g transform="translate(600,440) scale(0.125733)">
<path d="M320.0,880.0 L800.0,480.0"/>
<path d="M340.0,895.0 L850.0,492.0"/>
<path d="M500.0,975.0 L945.0,620.0"/>
<path d="M830.0,508.0 C841.7,510.3 881.7,510.0 900.0,522.0 C918.3,534.0 930.0,558.7 940.0,580.0 C950.0,601.3 952.5,620.0 960.0,650.0 C967.5,680.0 978.3,731.7 985.0,760.0 C991.7,788.3 997.5,810.0 1000.0,820.0"/>
</g>
<g transform="translate(720,440) scale(0.167645)">
<path d="M0.0,345.0 C5.8,343.8 23.3,336.3 35.0,338.0 C46.7,339.7 64.2,352.2 70.0,355.0"/>
<path d="M70.0,355.0 L238.0,502.0"/>
<path d="M35.0,610.0 L190.0,520.0"/>
<path d="M190.0,520.0 C194.2,517.7 205.8,508.5 215.0,506.0 C224.2,503.5 232.5,503.5 245.0,505.0 C257.5,506.5 276.5,509.7 290.0,515.0 C303.5,520.3 320.0,533.3 326.0,537.0"/>
</g>
<g transform="translate(800,500) scale(0.167645)">
<path d="M940.0,640.0 L1193.0,495.0"/>
</g>
<g transform="translate(440,600) scale(0.251467)">
</g>
<g transform="translate(550,680) scale(0.125733)">
<path d="M190,210 C300,270 420,420 520,580 C600,710 670,810 715,885"/>
<path d="M190,210 C185,270 205,340 240,390"/>
<path d="M240,390 C330,440 420,550 495,660 C560,760 640,850 740,900"/>
</g>
<g transform="translate(440,600) scale(0.251467)">
<path d="M800.0,760.0 C813.3,766.7 850.0,788.3 880.0,800.0 C910.0,811.7 947.5,823.3 980.0,830.0 C1012.5,836.7 1059.2,838.3 1075.0,840.0"/>
<path d="M810.0,750.0 C825.0,756.7 868.3,779.7 900.0,790.0 C931.7,800.3 970.8,807.0 1000.0,812.0 C1029.2,817.0 1062.5,818.7 1075.0,820.0"/>
<path d="M810.0,750.0 C818.3,745.0 841.7,728.0 860.0,720.0 C878.3,712.0 900.0,705.3 920.0,702.0 C940.0,698.7 961.7,699.0 980.0,700.0 C998.3,701.0 1014.2,702.2 1030.0,708.0 C1045.8,713.8 1067.5,730.5 1075.0,735.0"/>
<path d="M800.0,1075.0 C800.5,1067.5 798.8,1043.3 803.0,1030.0 C807.2,1016.7 813.8,1000.0 825.0,995.0 C836.2,990.0 849.2,989.2 870.0,1000.0 C890.8,1010.8 926.7,1038.3 950.0,1060.0 C973.3,1081.7 991.7,1106.7 1010.0,1130.0 C1028.3,1153.3 1051.7,1188.3 1060.0,1200.0"/>
</g>
<g transform="translate(0,0) scale(1.000000)">
<path d="M702.8,731.9 L704.6,732.8 L706.4,733.5 L708.2,734.0 L709.8,734.2 L711.5,734.2 L713.0,734.0 L714.4,733.5 L715.7,732.7 L716.8,731.7 L717.8,730.6 L718.6,729.2 L719.3,727.6 L719.7,725.8 L720.0,723.9 L720.1,721.9 L720.0,719.8 L719.7,717.5 L719.3,715.2 L718.6,712.9 L717.8,710.6 L716.8,708.2 L715.7,705.9 L714.4,703.7 L713.0,701.6 L711.5,699.6 L709.8,697.7 L708.2,696.0 L706.4,694.4 L704.6,693.1 L702.8,691.9 L701.0,691.0 L699.2,690.3 L697.4,689.8 L695.8,689.6 L694.1,689.6 L692.6,689.8 L691.2,690.3 L689.9,691.1 L688.8,692.1 L687.8,693.2 L687.0,694.6 L686.3,696.2 L685.9,698.0 L685.6,699.9 L685.5,701.9 L685.6,704.0 L685.9,706.3 L686.3,708.6 L687.0,710.9 L687.8,713.2 L688.8,715.6 L689.9,717.9 L691.2,720.1 L692.6,722.2 L694.1,724.2 L695.8,726.1 L697.4,727.8 L699.2,729.4 L701.0,730.7 L702.8,731.9 Z"/>
<path d="M702.0,729.8 L703.6,730.6 L705.1,731.2 L706.6,731.6 L708.1,731.8 L709.5,731.8 L710.8,731.6 L712.0,731.1 L713.1,730.5 L714.1,729.7 L715.0,728.6 L715.7,727.4 L716.2,726.1 L716.7,724.6 L716.9,722.9 L717.0,721.1 L716.9,719.3 L716.7,717.4 L716.2,715.4 L715.7,713.4 L715.0,711.3 L714.1,709.3 L713.1,707.4 L712.0,705.4 L710.8,703.6 L709.5,701.8 L708.1,700.2 L706.6,698.7 L705.1,697.4 L703.6,696.2 L702.0,695.2 L700.4,694.4 L698.9,693.8 L697.4,693.4 L695.9,693.2 L694.5,693.2 L693.2,693.4 L692.0,693.9 L690.9,694.5 L689.9,695.3 L689.0,696.4 L688.3,697.6 L687.8,698.9 L687.3,700.4 L687.1,702.1 L687.0,703.9 L687.1,705.7 L687.3,707.6 L687.8,709.6 L688.3,711.6 L689.0,713.7 L689.9,715.7 L690.9,717.6 L692.0,719.6 L693.2,721.4 L694.5,723.2 L695.9,724.8 L697.4,726.3 L698.9,727.6 L700.4,728.8 L702.0,729.8 Z"/>
<path d="M697.3,700.9 L706.4,706.4 L710.9,717.8 L706.2,724.6 L697.3,719.3 L692.8,707.4 Z"/>
<path d="M697.3,700.9 L701.3,704.0 L704.2,713.7 L710.9,717.8"/>
<path d="M704.2,713.7 L697.5,718.3"/>
</g>
<g transform="translate(600,1260) scale(0.217938)">
<path d="M430.0,0.0 C431.2,20.0 434.5,81.7 437.0,120.0 C439.5,158.3 443.7,211.7 445.0,230.0"/>
<path d="M445.0,230.0 C441.7,237.5 437.5,256.7 425.0,275.0 C412.5,293.3 387.5,317.5 370.0,340.0 C352.5,362.5 337.5,385.8 320.0,410.0 C302.5,434.2 285.0,462.5 265.0,485.0 C245.0,507.5 210.8,535.0 200.0,545.0"/>
<path d="M380.0,325.0 C374.2,335.8 359.2,365.0 345.0,390.0 C330.8,415.0 313.3,447.5 295.0,475.0 C276.7,502.5 245.0,541.7 235.0,555.0"/>
<path d="M445.0,230.0 C452.5,243.3 464.2,282.5 490.0,310.0 C515.8,337.5 548.3,369.2 600.0,395.0 C651.7,420.8 741.7,446.7 800.0,465.0 C858.3,483.3 899.5,495.2 950.0,505.0 C1000.5,514.8 1061.3,521.5 1103.0,524.0 C1144.7,526.5 1166.2,522.7 1200.0,520.0 C1233.8,517.3 1288.3,510.0 1306.0,508.0"/>
<path d="M200.0,545.0 C191.7,546.7 164.2,546.7 150.0,555.0 C135.8,563.3 122.7,579.2 115.0,595.0 C107.3,610.8 105.2,630.8 104.0,650.0 C102.8,669.2 102.8,691.7 108.0,710.0 C113.2,728.3 130.5,751.7 135.0,760.0"/>
<path d="M235.0,555.0 C226.7,559.2 198.8,565.8 185.0,580.0 C171.2,594.2 159.5,617.5 152.0,640.0 C144.5,662.5 142.0,702.5 140.0,715.0"/>
<path d="M200.0,545.0 L235.0,555.0"/>
<path d="M235.0,555.0 L695.0,822.0"/>
<path d="M140.0,715.0 L590.0,975.0"/>
<path d="M140.0,715.0 C143.3,719.5 151.7,733.7 160.0,742.0 C168.3,750.3 185.0,761.2 190.0,765.0"/>
<path d="M190.0,765.0 L550.0,970.0"/>
<path d="M190.0,765.0 C190.3,770.0 188.7,785.0 192.0,795.0 C195.3,805.0 207.0,820.0 210.0,825.0"/>
<path d="M135.0,760.0 L600.0,1035.0"/>
<path d="M600.0,1035.0 C607.5,1038.3 630.0,1050.8 645.0,1055.0 C660.0,1059.2 675.8,1061.7 690.0,1060.0 C704.2,1058.3 723.3,1047.5 730.0,1045.0"/>
<path d="M695.0,822.0 C710.0,823.0 730.5,825.8 745.0,838.0 C759.5,850.2 775.8,873.8 782.0,895.0 C788.2,916.2 784.8,943.3 782.0,965.0 C779.2,986.7 775.3,1010.0 765.0,1025.0 C754.7,1040.0 735.8,1050.8 720.0,1055.0 C704.2,1059.2 685.8,1055.0 670.0,1050.0 C654.2,1045.0 637.0,1037.5 625.0,1025.0 C613.0,1012.5 602.2,992.5 598.0,975.0 C593.8,957.5 596.7,937.5 600.0,920.0 C603.3,902.5 608.8,884.7 618.0,870.0 C627.2,855.3 642.2,840.0 655.0,832.0 C667.8,824.0 680.0,821.0 695.0,822.0 Z"/>
<path d="M550.0,970.0 C551.3,975.8 553.8,995.0 558.0,1005.0 C562.2,1015.0 568.0,1024.2 575.0,1030.0 C582.0,1035.8 595.8,1038.3 600.0,1040.0"/>
<path d="M695.0,822.0 C707.5,818.3 745.0,806.5 770.0,800.0 C795.0,793.5 812.5,792.7 845.0,783.0 C877.5,773.3 924.3,759.8 965.0,742.0 C1005.7,724.2 1068.3,687.0 1089.0,676.0"/>
</g>
<g transform="translate(760,1240) scale(0.201174)">
<path d="M612.0,500.0 L620.0,650.0"/>
<path d="M870.0,480.0 C871.7,493.3 877.5,533.3 880.0,560.0 C882.5,586.7 885.0,618.3 885.0,640.0 C885.0,661.7 885.8,672.5 880.0,690.0 C874.2,707.5 855.0,735.8 850.0,745.0"/>
<path d="M620.0,650.0 L440.0,885.0"/>
<path d="M620.0,650.0 L385.0,830.0"/>
<path d="M385.0,830.0 L440.0,885.0"/>
<path d="M440.0,885.0 L885.0,635.0"/>
<path d="M885.0,635.0 C897.5,627.5 939.5,609.2 960.0,590.0 C980.5,570.8 997.7,545.0 1008.0,520.0 C1018.3,495.0 1019.7,453.3 1022.0,440.0"/>
<path d="M1035.0,380.0 C1035.8,395.0 1045.8,438.3 1040.0,470.0 C1034.2,501.7 1018.3,540.0 1000.0,570.0 C981.7,600.0 948.3,628.3 930.0,650.0 C911.7,671.7 903.3,684.2 890.0,700.0 C876.7,715.8 856.7,737.5 850.0,745.0"/>
<path d="M70.0,1193.0 L850.0,745.0"/>
<path d="M70.0,1193.0 L-30.0,1250.0"/>
<path d="M440.0,885.0 C433.3,897.5 418.3,934.2 400.0,960.0 C381.7,985.8 358.3,1016.7 330.0,1040.0 C301.7,1063.3 246.7,1090.0 230.0,1100.0"/>
</g>
<g transform="translate(660,880) scale(0.251467)">
</g>
<g transform="translate(840,860) scale(0.167645)">
<path d="M500.0,60.0 C506.7,83.3 528.3,160.0 540.0,200.0 C551.7,240.0 563.7,273.3 570.0,300.0 C576.3,326.7 573.0,318.3 578.0,360.0 C583.0,401.7 594.7,493.3 600.0,550.0 C605.3,606.7 607.5,648.3 610.0,700.0 C612.5,751.7 613.0,810.0 615.0,860.0 C617.0,910.0 619.2,960.0 622.0,1000.0 C624.8,1040.0 629.0,1067.8 632.0,1100.0 C635.0,1132.2 638.7,1177.5 640.0,1193.0"/>
<path d="M290.0,305.0 C298.3,332.5 325.0,417.5 340.0,470.0 C355.0,522.5 370.5,573.3 380.0,620.0 C389.5,666.7 392.0,706.7 397.0,750.0 C402.0,793.3 406.2,838.3 410.0,880.0 C413.8,921.7 417.5,965.8 420.0,1000.0 C422.5,1034.2 424.2,1070.8 425.0,1085.0"/>
<path d="M235.0,665.0 C254.2,655.8 310.8,630.0 350.0,610.0 C389.2,590.0 438.3,575.0 470.0,545.0 C501.7,515.0 524.7,456.7 540.0,430.0 C555.3,403.3 556.5,400.8 562.0,385.0 C567.5,369.2 571.2,343.3 573.0,335.0"/>
<path d="M390.0,1050.0 C403.3,1046.7 442.5,1041.3 470.0,1030.0 C497.5,1018.7 533.3,1003.7 555.0,982.0 C576.7,960.3 590.8,917.8 600.0,900.0 C609.2,882.2 607.5,883.3 610.0,875.0 C612.5,866.7 614.2,854.2 615.0,850.0"/>
</g>
<g transform="translate(600,760) scale(0.167645)">
<path d="M75.0,30.0 L385.0,1193.0"/>
</g>
<g transform="translate(600,940) scale(0.167645)">
<path d="M355.0,0.0 C360.8,20.0 379.2,83.3 390.0,120.0 C400.8,156.7 412.5,185.0 420.0,220.0 C427.5,255.0 430.5,291.7 435.0,330.0 C439.5,368.3 444.0,411.7 447.0,450.0 C450.0,488.3 450.5,521.7 453.0,560.0 C455.5,598.3 458.8,640.0 462.0,680.0 C465.2,720.0 468.5,755.0 472.0,800.0 C475.5,845.0 479.2,884.5 483.0,950.0 C486.8,1015.5 493.0,1152.5 495.0,1193.0"/>
<path d="M400.0,150.0 C405.0,168.3 422.2,218.3 430.0,260.0 C437.8,301.7 440.3,343.3 447.0,400.0 C453.7,456.7 462.5,540.0 470.0,600.0 C477.5,660.0 482.0,710.0 492.0,760.0 C502.0,810.0 515.3,851.7 530.0,900.0 C544.7,948.3 569.2,1013.3 580.0,1050.0 C590.8,1086.7 590.8,1096.2 595.0,1120.0 C599.2,1143.8 603.3,1180.8 605.0,1193.0"/>
<path d="M462.0,640.0 C463.3,660.0 467.3,725.0 470.0,760.0 C472.7,795.0 475.2,817.7 478.0,850.0 C480.8,882.3 482.5,915.7 487.0,954.0 C491.5,992.3 498.2,1040.2 505.0,1080.0 C511.8,1119.8 524.2,1174.2 528.0,1193.0"/>
<path d="M935.0,1030.0 C932.5,1041.7 927.5,1078.3 920.0,1100.0 C912.5,1121.7 900.0,1144.5 890.0,1160.0 C880.0,1175.5 865.0,1187.5 860.0,1193.0"/>
</g>
<g transform="translate(600,1100) scale(0.167645)">
<path d="M480.0,0.0 C483.3,41.7 491.7,150.0 500.0,250.0 C508.3,350.0 517.5,442.8 530.0,600.0 C542.5,757.2 567.5,1094.2 575.0,1193.0"/>
<path d="M490.0,30.0 C495.0,58.3 505.0,141.7 520.0,200.0 C535.0,258.3 553.3,333.3 580.0,380.0 C606.7,426.7 653.3,456.3 680.0,480.0 C706.7,503.7 716.7,513.7 740.0,522.0 C763.3,530.3 796.7,533.7 820.0,530.0 C843.3,526.3 860.8,512.5 880.0,500.0 C899.2,487.5 925.8,462.5 935.0,455.0"/>
<path d="M545.0,0.0 C549.5,10.0 565.3,41.7 572.0,60.0 C578.7,78.3 580.3,78.3 585.0,110.0 C589.7,141.7 590.8,203.3 600.0,250.0 C609.2,296.7 623.3,357.5 640.0,390.0 C656.7,422.5 682.5,434.7 700.0,445.0 C717.5,455.3 730.0,457.0 745.0,452.0 C760.0,447.0 775.8,437.0 790.0,415.0 C804.2,393.0 820.0,347.5 830.0,320.0 C840.0,292.5 846.7,261.7 850.0,250.0"/>
<path d="M850.0,250.0 C857.5,241.7 880.8,216.7 895.0,200.0 C909.2,183.3 928.3,158.3 935.0,150.0"/>
<path d="M935.0,60.0 C932.8,71.7 928.7,107.5 922.0,130.0 C915.3,152.5 907.0,175.0 895.0,195.0 C883.0,215.0 857.5,240.8 850.0,250.0"/>
</g>
<g transform="translate(0,0) scale(1.000000)">
<path d="M710.6,977.0 L710.6,566.5 L710.8,563.0 L711.2,559.6 L712.0,556.6 L713.0,553.7 L714.4,551.2 L716.0,549.1 L717.9,547.2 L720.0,545.8 L722.3,544.7 L724.8,544.0 L727.5,543.6 L730.4,543.7 L733.3,544.2 L736.4,545.1 L739.5,546.4 L742.6,548.0 L815.2,589.2 L818.3,591.2 L821.4,593.5 L824.5,596.2 L827.4,599.1 L830.3,602.3 L833.0,605.7 L835.5,609.3 L837.8,613.1 L839.9,617.0 L841.8,621.0 L843.4,625.1 L844.8,629.1 L845.8,633.2 L846.6,637.1 L847.0,641.0 L847.2,644.7 L847.2,1093.7 Z" class="w"/>
<path d="M710.6,977.0 L710.6,566.5 L710.8,563.0 L711.2,559.6 L712.0,556.6 L713.0,553.7 L714.4,551.2 L716.0,549.1 L717.9,547.2 L720.0,545.8 L722.3,544.7 L724.8,544.0 L727.5,543.6 L730.4,543.7 L733.3,544.2 L736.4,545.1 L739.5,546.4 L742.6,548.0 L815.2,589.2 L818.3,591.2 L821.4,593.5 L824.5,596.2 L827.4,599.1 L830.3,602.3 L833.0,605.7 L835.5,609.3 L837.8,613.1 L839.9,617.0 L841.8,621.0 L843.4,625.1 L844.8,629.1 L845.8,633.2 L846.6,637.1 L847.0,641.0 L847.2,644.7 L847.2,1093.7"/>
<path d="M720.0,545.8 L750.9,527.9"/>
<path d="M750.9,527.9 L753.2,526.8 L755.7,526.1 L758.4,525.7 L761.3,525.8 L764.2,526.3 L767.3,527.2 L770.4,528.5 L773.5,530.1 L834.0,565.0"/>
<path d="M742.6,548.0 L773.5,530.1"/>
<path d="M815.2,589.2 L846.1,571.3"/>
<path d="M847.2,644.7 L878.1,626.8"/>
<path d="M846.1,571.3 L849.2,573.3 L852.3,575.6 L855.4,578.3 L858.3,581.2 L861.2,584.4 L863.9,587.8 L866.4,591.4 L868.7,595.2 L870.8,599.1 L872.7,603.1 L874.3,607.2 L875.7,611.2 L876.7,615.3 L877.5,619.2 L877.9,623.1 L878.1,626.8 L878.1,716.5"/>
<path d="M703.8,762.9 L703.9,760.7 L704.2,758.7 L704.7,756.9 L705.4,755.2 L706.3,753.7 L707.4,752.5 L708.6,751.4 L709.9,750.6 L729.3,739.5 L730.8,738.9 L732.4,738.6 L734.1,738.6 L735.9,738.9 L737.8,739.4 L739.7,740.1 L741.6,741.1 L743.5,742.3 L745.4,743.8 L747.3,745.4 L749.1,747.2 L750.8,749.2 L752.4,751.4 L753.9,753.6 L755.2,756.0 L756.5,758.4 L757.5,760.9 L758.4,763.4 L759.1,765.8 L759.6,768.3 L759.9,770.6 L760.0,772.9 L759.9,775.1 L759.6,777.1 L759.1,778.9 L758.4,780.6 L757.5,782.1 L756.5,783.3 L755.2,784.4 L753.9,785.1 L734.5,796.4 L733.0,796.9 L731.4,797.2 L729.7,797.2 L727.9,796.9 L726.0,796.4 L724.1,795.7 L722.2,794.7 L720.3,793.5 L718.4,792.0 L716.5,790.4 L714.7,788.6 L713.0,786.6 L711.4,784.4 L709.9,782.2 L708.6,779.8 L707.4,777.4 L706.3,774.9 L705.4,772.4 L704.7,770.0 L704.2,767.5 L703.9,765.2 Z" class="w"/>
<path d="M731.7,756.6 L731.8,755.4 L731.9,754.4 L732.2,753.4 L732.6,752.5 L733.0,751.7 L733.6,751.0 L734.3,750.4 L735.0,750.0 L767.1,731.5 L767.9,731.2 L768.8,731.0 L769.7,731.0 L770.7,731.1 L771.7,731.4 L772.7,731.8 L773.7,732.4 L774.8,733.0 L775.8,733.8 L776.8,734.7 L777.7,735.6 L778.7,736.7 L779.5,737.9 L780.3,739.1 L781.1,740.4 L781.7,741.7 L782.3,743.0 L782.8,744.3 L783.1,745.6 L783.4,747.0 L783.5,748.2 L783.6,749.5 L783.5,750.6 L783.4,751.7 L783.1,752.7 L782.8,753.6 L782.3,754.4 L781.7,755.1 L781.1,755.6 L780.3,756.0 L748.2,774.6 L747.4,774.9 L746.5,775.0 L745.6,775.0 L744.6,774.9 L743.6,774.6 L742.6,774.2 L741.6,773.7 L740.6,773.0 L739.5,772.3 L738.5,771.4 L737.6,770.4 L736.7,769.3 L735.8,768.2 L735.0,767.0 L734.3,765.7 L733.6,764.4 L733.0,763.1 L732.6,761.7 L732.2,760.4 L731.9,759.1 L731.8,757.8 Z" class="w"/>
<path d="M722.2,794.7 L724.1,795.7 L726.0,796.4 L727.9,796.9 L729.7,797.2 L731.4,797.2 L733.0,796.9 L734.5,796.3 L735.8,795.6 L737.1,794.5 L738.1,793.3 L739.0,791.8 L739.7,790.1 L740.2,788.3 L740.5,786.3 L740.6,784.1 L740.5,781.8 L740.2,779.5 L739.7,777.0 L739.0,774.6 L738.1,772.1 L737.1,769.6 L735.8,767.2 L734.5,764.8 L733.0,762.6 L731.4,760.4 L729.7,758.4 L727.9,756.6 L726.0,755.0 L724.1,753.5 L722.2,752.3 L720.3,751.3 L718.4,750.6 L716.5,750.1 L714.7,749.8 L713.0,749.8 L711.4,750.1 L709.9,750.7 L708.6,751.4 L707.3,752.5 L706.3,753.7 L705.4,755.2 L704.7,756.9 L704.2,758.7 L703.9,760.7 L703.8,762.9 L703.9,765.2 L704.2,767.5 L704.7,770.0 L705.4,772.4 L706.3,774.9 L707.3,777.4 L708.6,779.8 L709.9,782.2 L711.4,784.4 L713.0,786.6 L714.7,788.6 L716.5,790.4 L718.4,792.0 L720.3,793.5 L722.2,794.7 Z"/>
<path d="M721.0,792.7 L722.7,793.6 L724.3,794.2 L725.9,794.6 L727.4,794.8 L728.9,794.8 L730.3,794.6 L731.6,794.1 L732.8,793.4 L733.8,792.6 L734.7,791.5 L735.5,790.2 L736.1,788.8 L736.5,787.2 L736.8,785.4 L736.8,783.5 L736.8,781.6 L736.5,779.5 L736.1,777.4 L735.5,775.3 L734.7,773.2 L733.8,771.0 L732.8,769.0 L731.6,766.9 L730.3,765.0 L728.9,763.1 L727.4,761.4 L725.9,759.8 L724.3,758.4 L722.7,757.2 L721.0,756.1 L719.3,755.2 L717.7,754.6 L716.1,754.2 L714.6,754.0 L713.1,754.0 L711.7,754.2 L710.4,754.7 L709.2,755.4 L708.2,756.2 L707.3,757.3 L706.5,758.6 L705.9,760.0 L705.5,761.6 L705.2,763.4 L705.2,765.2 L705.2,767.2 L705.5,769.3 L705.9,771.4 L706.5,773.5 L707.3,775.6 L708.2,777.8 L709.2,779.8 L710.4,781.9 L711.7,783.8 L713.1,785.7 L714.6,787.4 L716.1,789.0 L717.7,790.4 L719.3,791.6 L721.0,792.7 Z"/>
<path d="M715.5,762.4 L725.0,768.2 L729.8,780.2 L724.8,787.3 L715.5,781.7 L710.7,769.2 Z"/>
<path d="M715.5,762.4 L719.7,765.6 L722.7,775.9 L729.8,780.2"/>
<path d="M713.7,767.0 L719.7,765.6"/>
<path d="M722.7,775.9 L715.7,780.7"/>
<path d="M709.2,751.0 L728.6,739.8"/>
<path d="M735.2,796.0 L754.6,784.8"/>
<path d="M754.6,784.8 L755.9,783.9 L757.0,782.7 L758.0,781.4 L758.7,779.8 L759.3,778.0 L759.7,776.1 L759.9,774.0 L759.9,771.8 L759.7,769.5 L759.3,767.1 L758.7,764.6 L758.0,762.1 L757.0,759.6 L755.9,757.2 L754.6,754.8 L753.2,752.5 L751.6,750.3 L749.9,748.2 L748.2,746.3 L746.4,744.6 L744.5,743.0 L742.6,741.7 L740.6,740.6 L738.7,739.7 L736.8,739.1 L735.0,738.7 L733.3,738.6 L731.6,738.7 L730.0,739.2 L728.6,739.8"/>
<path d="M745.6,743.9 L766.8,731.7"/>
<path d="M759.5,768.1 L780.7,755.8"/>
<path d="M780.7,755.8 L781.4,755.4 L782.0,754.7 L782.5,754.0 L782.9,753.2 L783.3,752.2 L783.5,751.2 L783.6,750.0 L783.6,748.8 L783.5,747.6 L783.3,746.3 L782.9,745.0 L782.5,743.7 L782.0,742.3 L781.4,741.0 L780.7,739.7 L779.9,738.5 L779.1,737.3 L778.2,736.2 L777.3,735.1 L776.3,734.2 L775.3,733.4 L774.2,732.7 L773.2,732.1 L772.2,731.6 L771.2,731.3 L770.2,731.1 L769.2,731.0 L768.4,731.1 L767.5,731.3 L766.7,731.7"/>
<path d="M773.3,760.1 L775.4,761.8 L777.4,763.3 L779.5,764.5 L781.6,765.4 L783.7,766.1 L785.6,766.5 L787.6,766.7 L789.4,766.5 L791.1,766.1 L792.6,765.4 L794.0,764.4 L795.3,763.2 L796.3,761.7 L797.2,760.0 L797.8,758.1 L798.2,755.9 L798.5,753.7 L798.5,751.3 L798.3,748.7 L797.8,746.1 L797.2,743.5 L796.3,740.8 L795.3,738.1 L794.1,735.4 L792.7,732.8 L791.1,730.3 L789.4,727.9 L787.6,725.7 L785.7,723.6 L783.7,721.7 L781.7,720.0 L779.6,718.6 L777.5,717.4 L775.4,716.4 L773.4,715.7 L771.4,715.4 L769.5,715.2 L767.7,715.4 L766.0,715.9 L764.4,716.6 L763.1,717.6 L761.8,718.8 L760.8,720.3 L760.0,722.0 L759.3,724.0 L758.9,726.1 L758.7,728.4 L758.7,730.8 L758.9,733.3 L759.4,735.9"/>
<path d="M797.2,748.8 L796.7,746.0 L796.0,743.1 L795.0,740.2 L793.7,737.3 L792.3,734.4 L790.7,731.7 L788.9,729.1 L787.0,726.6 L784.9,724.3 L782.8,722.3"/>
<path d="M703.8,874.9 L703.9,872.7 L704.2,870.7 L704.7,868.9 L705.4,867.2 L706.3,865.7 L707.4,864.5 L708.6,863.4 L709.9,862.6 L729.3,851.5 L730.8,850.9 L732.4,850.6 L734.1,850.6 L735.9,850.9 L737.8,851.4 L739.7,852.1 L741.6,853.1 L743.5,854.3 L745.4,855.8 L747.3,857.4 L749.1,859.2 L750.8,861.2 L752.4,863.4 L753.9,865.6 L755.2,868.0 L756.5,870.4 L757.5,872.9 L758.4,875.4 L759.1,877.8 L759.6,880.3 L759.9,882.6 L760.0,884.9 L759.9,887.1 L759.6,889.1 L759.1,890.9 L758.4,892.6 L757.5,894.1 L756.5,895.3 L755.2,896.4 L753.9,897.1 L734.5,908.4 L733.0,908.9 L731.4,909.2 L729.7,909.2 L727.9,908.9 L726.0,908.4 L724.1,907.7 L722.2,906.7 L720.3,905.5 L718.4,904.0 L716.5,902.4 L714.7,900.6 L713.0,898.6 L711.4,896.4 L709.9,894.2 L708.6,891.8 L707.4,889.4 L706.3,886.9 L705.4,884.4 L704.7,882.0 L704.2,879.5 L703.9,877.2 Z" class="w"/>
<path d="M731.7,868.6 L731.8,867.4 L731.9,866.4 L732.2,865.4 L732.6,864.5 L733.0,863.7 L733.6,863.0 L734.3,862.4 L735.0,862.0 L767.1,843.5 L767.9,843.2 L768.8,843.0 L769.7,843.0 L770.7,843.1 L771.7,843.4 L772.7,843.8 L773.7,844.4 L774.8,845.0 L775.8,845.8 L776.8,846.7 L777.7,847.6 L778.7,848.7 L779.5,849.9 L780.3,851.1 L781.1,852.4 L781.7,853.7 L782.3,855.0 L782.8,856.3 L783.1,857.6 L783.4,859.0 L783.5,860.2 L783.6,861.5 L783.5,862.6 L783.4,863.7 L783.1,864.7 L782.8,865.6 L782.3,866.4 L781.7,867.1 L781.1,867.6 L780.3,868.0 L748.2,886.6 L747.4,886.9 L746.5,887.0 L745.6,887.0 L744.6,886.9 L743.6,886.6 L742.6,886.2 L741.6,885.7 L740.6,885.0 L739.5,884.3 L738.5,883.4 L737.6,882.4 L736.7,881.3 L735.8,880.2 L735.0,879.0 L734.3,877.7 L733.6,876.4 L733.0,875.1 L732.6,873.7 L732.2,872.4 L731.9,871.1 L731.8,869.8 Z" class="w"/>
<path d="M722.2,906.7 L724.1,907.7 L726.0,908.4 L727.9,908.9 L729.7,909.2 L731.4,909.2 L733.0,908.9 L734.5,908.3 L735.8,907.6 L737.1,906.5 L738.1,905.3 L739.0,903.8 L739.7,902.1 L740.2,900.3 L740.5,898.3 L740.6,896.1 L740.5,893.8 L740.2,891.5 L739.7,889.0 L739.0,886.6 L738.1,884.1 L737.1,881.6 L735.8,879.2 L734.5,876.8 L733.0,874.6 L731.4,872.4 L729.7,870.4 L727.9,868.6 L726.0,867.0 L724.1,865.5 L722.2,864.3 L720.3,863.3 L718.4,862.6 L716.5,862.1 L714.7,861.8 L713.0,861.8 L711.4,862.1 L709.9,862.7 L708.6,863.4 L707.3,864.5 L706.3,865.7 L705.4,867.2 L704.7,868.9 L704.2,870.7 L703.9,872.7 L703.8,874.9 L703.9,877.2 L704.2,879.5 L704.7,882.0 L705.4,884.4 L706.3,886.9 L707.3,889.4 L708.6,891.8 L709.9,894.2 L711.4,896.4 L713.0,898.6 L714.7,900.6 L716.5,902.4 L718.4,904.0 L720.3,905.5 L722.2,906.7 Z"/>
<path d="M721.0,904.7 L722.7,905.6 L724.3,906.2 L725.9,906.6 L727.4,906.8 L728.9,906.8 L730.3,906.6 L731.6,906.1 L732.8,905.4 L733.8,904.6 L734.7,903.5 L735.5,902.2 L736.1,900.8 L736.5,899.2 L736.8,897.4 L736.8,895.5 L736.8,893.6 L736.5,891.5 L736.1,889.4 L735.5,887.3 L734.7,885.2 L733.8,883.0 L732.8,881.0 L731.6,878.9 L730.3,877.0 L728.9,875.1 L727.4,873.4 L725.9,871.8 L724.3,870.4 L722.7,869.2 L721.0,868.1 L719.3,867.2 L717.7,866.6 L716.1,866.2 L714.6,866.0 L713.1,866.0 L711.7,866.2 L710.4,866.7 L709.2,867.4 L708.2,868.2 L707.3,869.3 L706.5,870.6 L705.9,872.0 L705.5,873.6 L705.2,875.4 L705.2,877.2 L705.2,879.2 L705.5,881.3 L705.9,883.4 L706.5,885.5 L707.3,887.6 L708.2,889.8 L709.2,891.8 L710.4,893.9 L711.7,895.8 L713.1,897.7 L714.6,899.4 L716.1,901.0 L717.7,902.4 L719.3,903.6 L721.0,904.7 Z"/>
<path d="M715.5,874.4 L725.0,880.2 L729.8,892.2 L724.8,899.3 L715.5,893.7 L710.7,881.2 Z"/>
<path d="M715.5,874.4 L719.7,877.6 L722.7,887.9 L729.8,892.2"/>
<path d="M713.7,879.0 L719.7,877.6"/>
<path d="M722.7,887.9 L715.7,892.7"/>
<path d="M709.2,863.0 L728.6,851.8"/>
<path d="M735.2,908.0 L754.6,896.8"/>
<path d="M754.6,896.8 L755.9,895.9 L757.0,894.7 L758.0,893.4 L758.7,891.8 L759.3,890.0 L759.7,888.1 L759.9,886.0 L759.9,883.8 L759.7,881.5 L759.3,879.1 L758.7,876.6 L758.0,874.1 L757.0,871.6 L755.9,869.2 L754.6,866.8 L753.2,864.5 L751.6,862.3 L749.9,860.2 L748.2,858.3 L746.4,856.6 L744.5,855.0 L742.6,853.7 L740.6,852.6 L738.7,851.7 L736.8,851.1 L735.0,850.7 L733.3,850.6 L731.6,850.7 L730.0,851.2 L728.6,851.8"/>
<path d="M745.6,855.9 L766.8,843.7"/>
<path d="M759.5,880.1 L780.7,867.8"/>
<path d="M780.7,867.8 L781.4,867.4 L782.0,866.7 L782.5,866.0 L782.9,865.2 L783.3,864.2 L783.5,863.2 L783.6,862.0 L783.6,860.8 L783.5,859.6 L783.3,858.3 L782.9,857.0 L782.5,855.7 L782.0,854.3 L781.4,853.0 L780.7,851.7 L779.9,850.5 L779.1,849.3 L778.2,848.2 L777.3,847.1 L776.3,846.2 L775.3,845.4 L774.2,844.7 L773.2,844.1 L772.2,843.6 L771.2,843.3 L770.2,843.1 L769.2,843.0 L768.4,843.1 L767.5,843.3 L766.7,843.7"/>
<path d="M773.3,872.1 L775.4,873.8 L777.4,875.3 L779.5,876.5 L781.6,877.4 L783.7,878.1 L785.6,878.5 L787.6,878.7 L789.4,878.5 L791.1,878.1 L792.6,877.4 L794.0,876.4 L795.3,875.2 L796.3,873.7 L797.2,872.0 L797.8,870.1 L798.2,867.9 L798.5,865.7 L798.5,863.3 L798.3,860.7 L797.8,858.1 L797.2,855.5 L796.3,852.8 L795.3,850.1 L794.1,847.4 L792.7,844.8 L791.1,842.3 L789.4,839.9 L787.6,837.7 L785.7,835.6 L783.7,833.7 L781.7,832.0 L779.6,830.6 L777.5,829.4 L775.4,828.4 L773.4,827.7 L771.4,827.4 L769.5,827.2 L767.7,827.4 L766.0,827.9 L764.4,828.6 L763.1,829.6 L761.8,830.8 L760.8,832.3 L760.0,834.0 L759.3,836.0 L758.9,838.1 L758.7,840.4 L758.7,842.8 L758.9,845.3 L759.4,847.9"/>
<path d="M797.2,860.8 L796.7,858.0 L796.0,855.1 L795.0,852.2 L793.7,849.3 L792.3,846.4 L790.7,843.7 L788.9,841.1 L787.0,838.6 L784.9,836.3 L782.8,834.3"/>
</g>
<g transform="translate(742.3,1060.1) scale(0.251467)">
<path d="M55.0,51.0 L55.0,500.0"/>
<path d="M60.0,96.0 L220.0,186.0"/>
<path d="M55.0,500.0 C56.7,516.7 57.5,566.7 65.0,600.0 C72.5,633.3 84.2,666.7 100.0,700.0 C115.8,733.3 135.0,766.7 160.0,800.0 C185.0,833.3 218.3,868.3 250.0,900.0 C281.7,931.7 316.7,961.7 350.0,990.0 C383.3,1018.3 418.3,1045.8 450.0,1070.0 C481.7,1094.2 515.0,1120.0 540.0,1135.0 C565.0,1150.0 580.0,1155.3 600.0,1160.0 C620.0,1164.7 641.7,1164.7 660.0,1163.0 C678.3,1161.3 696.7,1154.2 710.0,1150.0 C723.3,1145.8 735.0,1140.0 740.0,1138.0"/>
<path d="M740.0,1138.0 L1100.0,930.0"/>
<path d="M1100.0,930.0 C1110.0,922.5 1145.3,901.7 1160.0,885.0 C1174.7,868.3 1183.0,850.8 1188.0,830.0 C1193.0,809.2 1189.7,771.7 1190.0,760.0"/>
<path d="M1190.0,760.0 L1190.0,320.0"/>
<path d="M1190.0,320.0 C1187.8,307.5 1185.7,267.5 1177.0,245.0 C1168.3,222.5 1154.2,199.2 1138.0,185.0 C1121.8,170.8 1089.7,164.2 1080.0,160.0"/>
<path d="M805.0,975.0 L1190.0,750.0"/>
<path d="M805.0,520.0 L805.0,975.0"/>
<path d="M805.0,975.0 C804.7,987.5 807.2,1028.3 803.0,1050.0 C798.8,1071.7 790.5,1090.3 780.0,1105.0 C769.5,1119.7 746.7,1132.5 740.0,1138.0"/>
<path d="M805.0,520.0 C803.7,506.7 806.2,462.5 797.0,440.0 C787.8,417.5 772.0,398.3 750.0,385.0 C728.0,371.7 679.2,364.2 665.0,360.0"/>
<path d="M680.0,480.0 L805.0,550.0"/>
<path d="M150.0,276.0 L150.0,560.0"/>
<path d="M150.0,276.0 C150.8,265.2 150.0,229.0 155.0,211.0 C160.0,193.0 169.2,178.8 180.0,168.0 C190.8,157.2 213.3,149.7 220.0,146.0"/>
<path d="M150.0,560.0 C154.2,581.7 156.7,645.0 175.0,690.0 C193.3,735.0 225.8,786.7 260.0,830.0 C294.2,873.3 346.7,918.0 380.0,950.0 C413.3,982.0 434.2,1002.0 460.0,1022.0 C485.8,1042.0 511.7,1060.3 535.0,1070.0 C558.3,1079.7 580.8,1079.7 600.0,1080.0 C619.2,1080.3 635.0,1078.7 650.0,1072.0 C665.0,1065.3 680.3,1053.7 690.0,1040.0 C699.7,1026.3 703.7,1010.0 708.0,990.0 C712.3,970.0 714.3,941.7 716.0,920.0 C717.7,898.3 717.7,870.0 718.0,860.0"/>
<path d="M718.0,860.0 L718.0,650.0"/>
<path d="M718.0,650.0 C717.0,636.7 718.3,601.7 712.0,570.0 C705.7,538.3 698.7,494.2 680.0,460.0 C661.3,425.8 613.3,380.8 600.0,365.0"/>
<path d="M250.0,306.0 L250.0,540.0"/>
<path d="M250.0,306.0 C250.3,296.0 249.5,262.3 252.0,246.0 C254.5,229.7 258.7,218.0 265.0,208.0 C271.3,198.0 285.8,189.7 290.0,186.0"/>
<path d="M250.0,540.0 C253.0,560.0 253.8,619.2 268.0,660.0 C282.2,700.8 308.0,748.3 335.0,785.0 C362.0,821.7 402.5,853.3 430.0,880.0 C457.5,906.7 476.7,928.0 500.0,945.0 C523.3,962.0 550.0,977.0 570.0,982.0 C590.0,987.0 605.0,979.5 620.0,975.0 C635.0,970.5 649.3,965.0 660.0,955.0 C670.7,945.0 679.0,930.8 684.0,915.0 C689.0,899.2 689.0,869.2 690.0,860.0"/>
<path d="M693.0,860.0 L693.0,660.0"/>
<path d="M693.0,660.0 C692.2,646.7 694.3,611.7 688.0,580.0 C681.7,548.3 671.3,503.3 655.0,470.0 C638.7,436.7 600.8,395.0 590.0,380.0"/>
<path d="M150.0,321.0 C155.8,322.7 173.0,330.5 185.0,331.0 C197.0,331.5 211.2,328.2 222.0,324.0 C232.8,319.8 245.3,309.0 250.0,306.0"/>
<path d="M150.0,555.0 C155.8,556.2 173.0,562.0 185.0,562.0 C197.0,562.0 211.2,558.7 222.0,555.0 C232.8,551.3 245.3,542.5 250.0,540.0"/>
<path d="M250.0,306.0 L385.0,228.0"/>
<path d="M250.0,540.0 L535.0,375.0"/>
<path d="M535.0,340.0 L535.0,420.0"/>
<path d="M535.0,420.0 C537.2,436.7 536.3,483.3 548.0,520.0 C559.7,556.7 581.3,606.7 605.0,640.0 C628.7,673.3 675.8,706.7 690.0,720.0"/>
<path d="M560.0,350.0 C563.0,370.0 566.0,431.7 578.0,470.0 C590.0,508.3 612.5,548.3 632.0,580.0 C651.5,611.7 684.5,646.7 695.0,660.0"/>
<path d="M693.0,655.0 L718.0,650.0"/>
<path d="M690.0,860.0 C692.5,860.5 700.3,863.0 705.0,863.0 C709.7,863.0 715.8,860.5 718.0,860.0"/>
<path d="M220.0,146.0 C222.5,150.3 228.0,165.3 235.0,172.0 C242.0,178.7 252.8,183.7 262.0,186.0 C271.2,188.3 285.3,186.0 290.0,186.0"/>
</g>
<g transform="translate(780,1040) scale(0.251467)">
<path d="M265.0,200.0 C266.2,215.0 262.8,262.5 272.0,290.0 C281.2,317.5 298.7,346.7 320.0,365.0 C341.3,383.3 376.7,390.8 400.0,400.0 C423.3,409.2 440.8,413.3 460.0,420.0 C479.2,426.7 505.8,436.7 515.0,440.0"/>
<path d="M875.0,238.0 C880.0,237.5 895.8,234.7 905.0,235.0 C914.2,235.3 925.8,239.2 930.0,240.0"/>
<path d="M415.0,190.0 L550.0,272.0"/>
<path d="M0.0,60.0 L265.0,215.0"/>
</g>
<g transform="translate(660,880) scale(0.251467)">
<path d="M202.0,385.0 C201.7,394.2 202.0,422.5 200.0,440.0 C198.0,457.5 193.7,476.7 190.0,490.0 C186.3,503.3 184.7,510.8 178.0,520.0 C171.3,529.2 161.0,536.7 150.0,545.0 C139.0,553.3 121.7,563.8 112.0,570.0 C102.3,576.2 95.3,580.0 92.0,582.0"/>
<path d="M180.0,522.0 L745.0,852.0"/>
<path d="M92.0,582.0 L795.0,1000.0"/>
<path d="M875.0,140.0 L875.0,740.0"/>
<path d="M875.0,740.0 C876.7,750.0 876.7,780.0 885.0,800.0 C893.3,820.0 907.5,842.5 925.0,860.0 C942.5,877.5 979.2,897.5 990.0,905.0"/>
<path d="M990.0,905.0 L1035.0,912.0 L1352.0,874.0"/>
<path d="M875.0,140.0 L990.0,75.0 L990.0,-9.0"/>
<path d="M905.0,830.0 L1035.0,912.0"/>
<path d="M875.0,560.0 L1412.0,881.0"/>
<path d="M875.0,585.0 L1347.0,873.0"/>
</g>
<g transform="translate(863.9,713.2) scale(0.125733)">
<path d="M280.0,115.0 L355.0,70.0 L355.0,-40.0 L700.0,-40.0 L700.0,195.0 L728.0,225.0 L728.0,268.0 L690.0,292.0 L660.0,350.0 L655.0,385.0 L562.0,385.0 L562.0,900.0 L640.0,940.0 L690.0,985.0 L690.0,1150.0 L325.0,1330.0 L280.0,1350.0 Z" class="w"/>
<path d="M280,115 L280,1350"/>
<path d="M325,170 L325,1330" class="b"/>
<path d="M280,115 L325,170 L690,-30"/>
<path d="M280,115 L355,70 L355,-110"/>
<path d="M700,-40 L700,195"/>
<path d="M390,135 L390,205 C392,265 420,295 450,288 C505,275 550,215 550,150 L550,48"/>
<path d="M390,1260 L390,1140 C395,1085 430,1045 490,1037 C530,1035 550,1055 550,1085 L550,1200"/>
<path d="M468,920 L468,420 C470,340 520,285 575,268 L615,270"/>
<path d="M468,920 C470,950 490,965 510,968"/>
<path d="M500,925 L500,430 C505,360 550,305 625,283 L655,297"/>
<path d="M500,925 C505,965 530,985 555,980 C590,970 610,945 615,925"/>
<path d="M478,415 L498,432"/>
<path d="M478,925 L500,940"/>
<path d="M622,272 C640,235 670,205 700,195 C720,195 728,205 728,225 L728,268 L690,292 L660,350 L655,385"/>
<path d="M635,272 C655,240 690,215 715,208"/>
<path d="M562,900 L562,385 Q565,362 585,360"/>
<path d="M570,880 L570,395" class="t"/>
<path d="M566,560 C585,600 585,650 566,700"/>
</g>
<g transform="translate(853.9,653.2) scale(0.125733)">
<path d="M205,90 L520,272"/>
<path d="M520,285 L780,437"/>
<path d="M205,500 L432,368"/>
<path d="M205,240 L395,345 L432,368"/>
<path d="M395,345 L520,272" class="b"/>
<path d="M408,352 L528,282" class="t"/>
</g>
<g transform="translate(853.9,783.2) scale(0.125733)">
<path d="M360,790 L430,757"/>
<path d="M405,760 L770,555" class="b"/>
<path d="M780,425 L780,545 L765,560"/>
<path d="M550,-100 L550,350 C552,395 580,425 625,425 C660,420 685,395 690,375"/>
<path d="M468,730 L468,620 C475,540 520,485 575,478 C615,478 632,500 632,530 L632,640"/>
</g>
<g transform="translate(920,700) scale(0.167645)">
<path d="M195.0,175.0 L505.0,350.0"/>
<path d="M208.0,188.0 L492.0,352.0"/>
<path d="M505.0,350.0 L372.0,428.0"/>
<path d="M492.0,355.0 L380.0,418.0"/>
<path d="M190.0,300.0 L365.0,400.0"/>
<path d="M175.0,330.0 L355.0,425.0"/>
<path d="M165.0,355.0 L290.0,425.0 L275.0,455.0"/>
<path d="M100.0,345.0 L290.0,455.0" class="b"/>
<path d="M95.0,360.0 L275.0,465.0"/>
<path d="M185.0,540.0 L500.0,352.0"/>
<path d="M190.0,535.0 L290.0,470.0"/>
<path d="M145.0,585.0 L185.0,540.0 L275.0,630.0 L1045.0,185.0 L1100.0,0.0 L1135.0,80.0 L1135.0,460.0 L1045.0,575.0 L275.0,1005.0 L215.0,1032.0 L145.0,985.0 Z" class="w"/>
<path d="M145.0,585.0 L145.0,985.0"/>
<path d="M155.0,590.0 L155.0,995.0" class="t"/>
<path d="M200.0,620.0 L200.0,1020.0"/>
<path d="M275.0,630.0 L275.0,1005.0"/>
<path d="M145.0,585.0 C146.2,580.8 148.2,566.2 152.0,560.0 C155.8,553.8 162.5,551.3 168.0,548.0 C173.5,544.7 182.2,541.3 185.0,540.0"/>
<path d="M148.0,590.0 C153.3,595.3 166.3,614.7 180.0,622.0 C193.7,629.3 214.2,632.7 230.0,634.0 C245.8,635.3 267.5,630.7 275.0,630.0"/>
<path d="M145.0,985.0 C147.5,989.2 153.3,1002.5 160.0,1010.0 C166.7,1017.5 175.8,1026.3 185.0,1030.0 C194.2,1033.7 205.0,1032.3 215.0,1032.0 C225.0,1031.7 235.0,1032.5 245.0,1028.0 C255.0,1023.5 270.0,1008.8 275.0,1005.0"/>
<path d="M275.0,630.0 L1045.0,185.0"/>
<path d="M275.0,1005.0 L1045.0,575.0"/>
<path d="M1045.0,185.0 L1045.0,575.0"/>
<path d="M1045.0,575.0 C1054.2,571.3 1085.8,563.0 1100.0,553.0 C1114.2,543.0 1124.2,530.5 1130.0,515.0 C1135.8,499.5 1134.2,469.2 1135.0,460.0"/>
<path d="M1135.0,460.0 L1135.0,80.0"/>
<path d="M1135.0,80.0 C1134.7,73.3 1135.5,50.8 1133.0,40.0 C1130.5,29.2 1125.5,21.7 1120.0,15.0 C1114.5,8.3 1103.3,2.5 1100.0,0.0"/>
<path d="M1045.0,185.0 C1052.5,181.7 1077.5,172.8 1090.0,165.0 C1102.5,157.2 1113.0,149.7 1120.0,138.0 C1127.0,126.3 1130.0,102.2 1132.0,95.0"/>
<path d="M20.0,1010.0 L70.0,1193.0"/>
</g>
<g transform="translate(340,520) scale(0.125733)">
<path d="M410.0,520.0 L965.0,268.0"/>
<path d="M470.0,505.0 C521.7,474.2 720.0,353.2 780.0,320.0 C840.0,286.8 807.5,308.0 830.0,306.0 C852.5,304.0 900.8,307.7 915.0,308.0"/>
<path d="M520.0,492.0 C533.3,488.3 570.0,475.0 600.0,470.0 C630.0,465.0 666.7,473.7 700.0,462.0 C733.3,450.3 765.8,424.5 800.0,400.0 C834.2,375.5 887.5,329.2 905.0,315.0"/>
<path d="M600.0,470.0 L850.0,320.0"/>
</g>
<g transform="translate(440,580) scale(0.150880)">
<path d="M400.0,550.0 L835.0,235.0"/>
<path d="M445.0,545.0 L855.0,250.0"/>
<path d="M300.0,715.0 C304.2,702.5 315.0,661.7 325.0,640.0 C335.0,618.3 347.5,600.0 360.0,585.0 C372.5,570.0 393.3,555.8 400.0,550.0"/>
<path d="M300.0,715.0 L525.0,590.0"/>
<path d="M0.0,980.0 L480.0,698.0"/>
<path d="M200.0,865.0 C208.3,854.2 236.7,817.5 250.0,800.0 C263.3,782.5 271.7,774.2 280.0,760.0 C288.3,745.8 296.7,722.5 300.0,715.0"/>
<path d="M190.0,872.0 C197.0,861.7 220.0,828.7 232.0,810.0 C244.0,791.3 253.2,774.7 262.0,760.0 C270.8,745.3 281.2,728.3 285.0,722.0"/>
<path d="M600.0,440.0 C593.3,448.3 571.2,470.8 560.0,490.0 C548.8,509.2 539.3,535.0 533.0,555.0 C526.7,575.0 523.8,590.8 522.0,610.0 C520.2,629.2 519.3,650.8 522.0,670.0 C524.7,689.2 531.7,710.0 538.0,725.0 C544.3,740.0 556.3,754.2 560.0,760.0"/>
<path d="M520.0,635.0 L890.0,845.0"/>
<path d="M480.0,700.0 C485.8,707.5 501.7,731.7 515.0,745.0 C528.3,758.3 545.8,770.8 560.0,780.0 C574.2,789.2 593.3,796.7 600.0,800.0"/>
<path d="M600.0,800.0 L940.0,990.0"/>
<path d="M680.0,385.0 C686.7,388.8 707.5,404.2 720.0,408.0 C732.5,411.8 743.3,411.8 755.0,408.0 C766.7,404.2 784.2,388.8 790.0,385.0"/>
<path d="M790.0,385.0 L880.0,335.0"/>
<path d="M880.0,335.0 C884.2,331.2 899.3,319.5 905.0,312.0 C910.7,304.5 913.2,297.8 914.0,290.0 C914.8,282.2 910.7,269.2 910.0,265.0"/>
<path d="M770.0,310.0 C771.7,315.8 780.3,333.3 780.0,345.0 C779.7,356.7 774.7,370.8 768.0,380.0 C761.3,389.2 744.7,396.7 740.0,400.0"/>
<path d="M795.0,295.0 C796.7,300.8 804.2,318.3 805.0,330.0 C805.8,341.7 802.5,355.8 800.0,365.0 C797.5,374.2 791.7,381.7 790.0,385.0"/>
</g>
<g transform="translate(0,580) scale(0.251467)">
<path d="M187.0,205.0 C187.8,215.8 187.3,249.2 192.0,270.0 C196.7,290.8 202.0,313.3 215.0,330.0 C228.0,346.7 260.8,363.3 270.0,370.0"/>
<path d="M270.0,370.0 L900.0,740.0"/>
<path d="M187.0,205.0 L752.0,526.0"/>
<path d="M730.0,380.0 L857.0,310.0"/>
<path d="M860.0,665.0 L960.0,605.0"/>
</g>
<g transform="translate(150,580) scale(0.251467)">
<path d="M262.0,240.0 L940.0,660.0"/>
<path d="M272.0,264.0 L560.0,428.0 L610.0,458.0"/>
<path d="M265.0,665.0 L365.0,605.0"/>
<path d="M400.0,630.0 C406.7,635.0 423.3,650.0 440.0,660.0 C456.7,670.0 490.0,685.0 500.0,690.0"/>
</g>
<g transform="translate(130,700) scale(0.251467)">
<path d="M55.0,75.0 L55.0,500.0"/>
<path d="M60.0,120.0 L220.0,210.0"/>
<path d="M55.0,500.0 C56.7,516.7 57.5,566.7 65.0,600.0 C72.5,633.3 84.2,666.7 100.0,700.0 C115.8,733.3 135.0,766.7 160.0,800.0 C185.0,833.3 218.3,868.3 250.0,900.0 C281.7,931.7 316.7,961.7 350.0,990.0 C383.3,1018.3 418.3,1045.8 450.0,1070.0 C481.7,1094.2 515.0,1120.0 540.0,1135.0 C565.0,1150.0 580.0,1155.3 600.0,1160.0 C620.0,1164.7 641.7,1164.7 660.0,1163.0 C678.3,1161.3 696.7,1154.2 710.0,1150.0 C723.3,1145.8 735.0,1140.0 740.0,1138.0"/>
<path d="M740.0,1138.0 L1100.0,930.0"/>
<path d="M1100.0,930.0 C1110.0,922.5 1145.3,901.7 1160.0,885.0 C1174.7,868.3 1183.0,850.8 1188.0,830.0 C1193.0,809.2 1189.7,771.7 1190.0,760.0"/>
<path d="M1190.0,760.0 L1190.0,320.0"/>
<path d="M1190.0,320.0 C1188.8,310.0 1189.7,278.0 1183.0,260.0 C1176.3,242.0 1166.3,224.5 1150.0,212.0 C1133.7,199.5 1095.8,189.5 1085.0,185.0"/>
<path d="M805.0,975.0 L1190.0,750.0"/>
<path d="M805.0,520.0 L805.0,975.0"/>
<path d="M805.0,975.0 C804.7,987.5 807.2,1028.3 803.0,1050.0 C798.8,1071.7 790.5,1090.3 780.0,1105.0 C769.5,1119.7 746.7,1132.5 740.0,1138.0"/>
<path d="M805.0,520.0 C803.7,506.7 806.2,462.5 797.0,440.0 C787.8,417.5 772.0,398.3 750.0,385.0 C728.0,371.7 679.2,364.2 665.0,360.0"/>
<path d="M680.0,480.0 L805.0,550.0"/>
<path d="M150.0,300.0 L150.0,560.0"/>
<path d="M150.0,300.0 C150.8,289.2 150.0,253.0 155.0,235.0 C160.0,217.0 169.2,202.8 180.0,192.0 C190.8,181.2 213.3,173.7 220.0,170.0"/>
<path d="M150.0,560.0 C154.2,581.7 156.7,645.0 175.0,690.0 C193.3,735.0 225.8,786.7 260.0,830.0 C294.2,873.3 346.7,918.0 380.0,950.0 C413.3,982.0 434.2,1002.0 460.0,1022.0 C485.8,1042.0 511.7,1060.3 535.0,1070.0 C558.3,1079.7 580.8,1079.7 600.0,1080.0 C619.2,1080.3 635.0,1078.7 650.0,1072.0 C665.0,1065.3 680.3,1053.7 690.0,1040.0 C699.7,1026.3 703.7,1010.0 708.0,990.0 C712.3,970.0 714.3,941.7 716.0,920.0 C717.7,898.3 717.7,870.0 718.0,860.0"/>
<path d="M718.0,860.0 L718.0,650.0"/>
<path d="M718.0,650.0 C717.0,636.7 718.3,601.7 712.0,570.0 C705.7,538.3 698.7,494.2 680.0,460.0 C661.3,425.8 613.3,380.8 600.0,365.0"/>
<path d="M250.0,330.0 L250.0,540.0"/>
<path d="M250.0,330.0 C250.3,320.0 249.5,286.3 252.0,270.0 C254.5,253.7 258.7,242.0 265.0,232.0 C271.3,222.0 285.8,213.7 290.0,210.0"/>
<path d="M250.0,540.0 C253.0,560.0 253.8,619.2 268.0,660.0 C282.2,700.8 308.0,748.3 335.0,785.0 C362.0,821.7 402.5,853.3 430.0,880.0 C457.5,906.7 476.7,928.0 500.0,945.0 C523.3,962.0 550.0,977.0 570.0,982.0 C590.0,987.0 605.0,979.5 620.0,975.0 C635.0,970.5 649.3,965.0 660.0,955.0 C670.7,945.0 679.0,930.8 684.0,915.0 C689.0,899.2 689.0,869.2 690.0,860.0"/>
<path d="M693.0,860.0 L693.0,660.0"/>
<path d="M693.0,660.0 C692.2,646.7 694.3,611.7 688.0,580.0 C681.7,548.3 671.3,503.3 655.0,470.0 C638.7,436.7 600.8,395.0 590.0,380.0"/>
<path d="M150.0,345.0 C155.8,346.7 173.0,354.5 185.0,355.0 C197.0,355.5 211.2,352.2 222.0,348.0 C232.8,343.8 245.3,333.0 250.0,330.0"/>
<path d="M150.0,555.0 C155.8,556.2 173.0,562.0 185.0,562.0 C197.0,562.0 211.2,558.7 222.0,555.0 C232.8,551.3 245.3,542.5 250.0,540.0"/>
<path d="M250.0,330.0 L385.0,252.0"/>
<path d="M250.0,540.0 L535.0,375.0"/>
<path d="M535.0,340.0 L535.0,420.0"/>
<path d="M535.0,420.0 C537.2,436.7 536.3,483.3 548.0,520.0 C559.7,556.7 581.3,606.7 605.0,640.0 C628.7,673.3 675.8,706.7 690.0,720.0"/>
<path d="M560.0,350.0 C563.0,370.0 566.0,431.7 578.0,470.0 C590.0,508.3 612.5,548.3 632.0,580.0 C651.5,611.7 684.5,646.7 695.0,660.0"/>
<path d="M693.0,655.0 L718.0,650.0"/>
<path d="M690.0,860.0 C692.5,860.5 700.3,863.0 705.0,863.0 C709.7,863.0 715.8,860.5 718.0,860.0"/>
<path d="M220.0,170.0 C222.5,174.3 228.0,189.3 235.0,196.0 C242.0,202.7 252.8,207.7 262.0,210.0 C271.2,212.3 285.3,210.0 290.0,210.0"/>
</g>
<g transform="translate(130,700) scale(0.251467)">
<path d="M665.0,360.0 L940.0,195.0"/>
<path d="M940.0,195.0 C951.7,193.3 985.8,186.7 1010.0,185.0 C1034.2,183.3 1072.5,185.0 1085.0,185.0"/>
<path d="M213.0,-97.0 C214.8,-80.8 216.5,-34.8 224.0,0.0 C231.5,34.8 240.3,76.2 258.0,112.0 C275.7,147.8 299.7,185.3 330.0,215.0 C360.3,244.7 408.3,271.2 440.0,290.0 C471.7,308.8 493.3,318.0 520.0,328.0 C546.7,338.0 575.8,344.7 600.0,350.0 C624.2,355.3 654.2,358.3 665.0,360.0"/>
<path d="M340,-167 C348,-17 433,133 593,213"/>
<path d="M590.0,214.0 C611.7,213.3 675.0,211.8 720.0,210.0 C765.0,208.2 811.7,207.0 860.0,203.0 C908.3,199.0 985.0,188.8 1010.0,186.0"/>
<path d="M340.0,190.0 L440.0,130.0"/>
</g>
<g transform="translate(200,470) scale(0.167645)">
<path d="M95.0,525.0 L330.0,545.0 L830.0,1010.0 L870.0,1120.0 L1100.0,1150.0 L1193.0,680.0 L1060.0,670.0 L600.0,235.0 L575.0,190.0 L520.0,10.0 L325.0,130.0 L270.0,150.0 L230.0,420.0 L95.0,520.0 Z" class="w"/>
<path d="M95.0,375.0 L95.0,1120.0"/>
<path d="M95.0,520.0 C107.5,512.5 146.2,493.0 170.0,475.0 C193.8,457.0 226.7,422.5 238.0,412.0"/>
<path d="M95.0,525.0 C104.2,530.0 130.8,549.5 150.0,555.0 C169.2,560.5 191.7,561.3 210.0,558.0 C228.3,554.7 245.8,540.2 260.0,535.0 C274.2,529.8 283.3,525.3 295.0,527.0 C306.7,528.7 324.2,542.0 330.0,545.0"/>
<path d="M330.0,545.0 L830.0,1010.0"/>
<path d="M325.0,130.0 C327.5,141.7 333.3,175.8 340.0,200.0 C346.7,224.2 351.7,252.5 365.0,275.0 C378.3,297.5 410.8,325.0 420.0,335.0"/>
<path d="M420.0,335.0 L890.0,780.0"/>
<path d="M890.0,780.0 C894.2,783.3 905.0,796.7 915.0,800.0 C925.0,803.3 944.2,800.0 950.0,800.0"/>
<path d="M360.0,240.0 L545.0,140.0"/>
<path d="M420.0,335.0 L600.0,235.0"/>
<path d="M520.0,10.0 C522.5,21.7 530.0,57.5 535.0,80.0 C540.0,102.5 543.3,126.7 550.0,145.0 C556.7,163.3 568.3,177.5 575.0,190.0 C581.7,202.5 585.8,212.5 590.0,220.0 C594.2,227.5 598.3,232.5 600.0,235.0"/>
<path d="M600.0,235.0 L1060.0,670.0"/>
<path d="M1060.0,670.0 C1065.8,674.2 1081.7,690.3 1095.0,695.0 C1108.3,699.7 1123.7,700.5 1140.0,698.0 C1156.3,695.5 1184.2,683.0 1193.0,680.0"/>
<path d="M890.0,780.0 L1060.0,670.0"/>
<path d="M950.0,800.0 L1193.0,665.0"/>
<path d="M0.0,1175.0 L95.0,1120.0"/>
</g>
<g transform="translate(280,560) scale(0.251467)">
<path d="M240.0,320.0 L320.0,178.0 L480.0,95.0 L560.0,92.0 L640.0,130.0 L700.0,215.0 L760.0,320.0 L792.0,430.0 L790.0,520.0 L775.0,580.0 L750.0,610.0 L585.0,695.0 L510.0,690.0 L420.0,640.0 L330.0,530.0 L270.0,420.0 Z" class="w"/>
<path d="M466.0,85.3 L475.2,83.3 L484.7,82.1 L494.6,81.7 L504.6,82.0 L515.0,83.1 L525.5,85.0 L536.2,87.6 L547.1,91.0 L558.1,95.1 L569.1,99.9 L580.3,105.4 L591.4,111.7 L602.6,118.6 L613.7,126.2 L624.7,134.4 L635.6,143.2 L646.5,152.6 L657.1,162.6 L667.6,173.1 L677.8,184.2 L687.8,195.7 L697.5,207.6 L706.9,220.0 L715.9,232.7 L724.6,245.8 L733.0,259.2 L740.9,272.8 L748.4,286.7 L755.4,300.7 L762.0,314.9 L768.1,329.2 L773.7,343.6 L778.7,358.0 L783.3,372.4 L787.2,386.7 L790.7,401.0 L793.5,415.1 L795.8,429.0 L797.5,442.7 L798.6,456.1 L799.1,469.3 L799.0,482.1 L798.3,494.6 L797.1,506.7 L795.2,518.3 L792.8,529.5 L789.8,540.1 L786.2,550.3 L782.1,559.9 L777.4,568.9 L772.2,577.2 L766.5,585.0 L760.3,592.1 L753.6,598.5 L746.4,604.3"/>
</g>
<g transform="translate(330,590) scale(0.125733)">
<path d="M230.0,110.0 C250.0,107.5 305.0,91.7 350.0,95.0 C395.0,98.3 450.0,104.2 500.0,130.0 C550.0,155.8 601.7,200.0 650.0,250.0 C698.3,300.0 750.0,365.0 790.0,430.0 C830.0,495.0 865.8,570.0 890.0,640.0 C914.2,710.0 928.3,790.0 935.0,850.0 C941.7,910.0 939.2,960.0 930.0,1000.0 C920.8,1040.0 898.3,1065.8 880.0,1090.0 C861.7,1114.2 850.0,1133.3 820.0,1145.0 C790.0,1156.7 743.3,1167.5 700.0,1160.0 C656.7,1152.5 610.0,1133.3 560.0,1100.0 C510.0,1066.7 450.0,1016.7 400.0,960.0 C350.0,903.3 298.3,826.7 260.0,760.0 C221.7,693.3 193.3,613.3 170.0,560.0 C146.7,506.7 136.2,468.0 120.0,440.0 C103.8,412.0 80.8,400.0 73.0,392.0"/>
</g>
<g transform="translate(280,560) scale(0.251467)">
<path d="M320.0,178.0 L480.0,95.0"/>
<path d="M600.0,690.0 L750.0,608.0"/>
<path d="M275.0,160.0 C278.3,162.7 287.5,173.0 295.0,176.0 C302.5,179.0 315.8,177.7 320.0,178.0"/>
<path d="M275.0,160.0 L394.0,88.0"/>
</g>
<g transform="translate(330,590) scale(0.125733)">
<path d="M635.2,1004.4 L620.2,1012.2 L603.8,1017.4 L586.1,1020.1 L567.1,1020.2 L547.1,1017.8 L526.2,1012.8 L504.6,1005.2 L482.5,995.2 L459.9,982.8 L437.1,968.1 L414.2,951.2 L391.5,932.2 L369.0,911.4 L347.1,888.8 L325.7,864.6 L305.2,839.0 L285.6,812.2 L267.0,784.4 L249.8,755.8 L233.9,726.7 L219.5,697.2 L206.7,667.6 L195.6,638.1 L186.3,608.9 L178.8,580.2 L173.3,552.4 L169.7,525.5 L168.0,499.8 L168.4,475.4 L170.8,452.7 L175.1,431.6 L181.4,412.5 L189.6,395.4 L199.6,380.5 L211.4,367.9 L224.8,357.6 L239.8,349.8 L256.2,344.6 L273.9,341.9 L292.9,341.8 L312.9,344.2 L333.8,349.2 L355.4,356.8 L377.5,366.8 L400.1,379.2 L422.9,393.9 L445.8,410.8 L468.5,429.8 L491.0,450.6 L512.9,473.2 L534.3,497.4 L554.8,523.0 L574.4,549.8 L593.0,577.6 L610.2,606.2 L626.1,635.3 L640.5,664.8 L653.3,694.4 L664.4,723.9 L673.7,753.1 L681.2,781.8 L686.7,809.6 L690.3,836.5 L692.0,862.2 L691.6,886.6 L689.2,909.3 L684.9,930.4 L678.6,949.5 L670.4,966.6 L660.4,981.5 L648.6,994.1 L635.2,1004.4 Z"/>
<path d="M255.0,350.0 C262.5,338.8 279.2,298.3 300.0,283.0 C320.8,267.7 350.0,255.2 380.0,258.0 C410.0,260.8 443.3,276.3 480.0,300.0 C516.7,323.7 563.3,360.0 600.0,400.0 C636.7,440.0 670.0,490.0 700.0,540.0 C730.0,590.0 762.5,651.7 780.0,700.0 C797.5,748.3 803.0,796.7 805.0,830.0 C807.0,863.3 797.8,883.3 792.0,900.0 C786.2,916.7 773.7,925.0 770.0,930.0"/>
<path d="M255.0,350.0 L330.0,280.0"/>
<path d="M300.0,332.0 L400.0,270.0"/>
<path d="M640.0,990.0 L770.0,915.0"/>
<path d="M662.0,995.0 L742.0,950.0"/>
</g>
<g transform="translate(280,560) scale(0.251467)">
<path d="M380.0,430.0 L405.0,415.0 L435.0,445.0 L445.0,490.0 L420.0,505.0 L390.0,475.0 Z"/>
<path d="M390.0,465.0 L440.0,447.0"/>
</g>
<g transform="translate(200,330) scale(0.125733)">
<path d="M280,115 L280,1350"/>
<path d="M325,170 L325,1330" class="b"/>
<path d="M280,115 L325,170 L690,-30"/>
<path d="M280,115 L355,70 L355,-110"/>
<path d="M700,-40 L700,195"/>
<path d="M390,135 L390,205 C392,265 420,295 450,288 C505,275 550,215 550,150 L550,48"/>
<path d="M390,1260 L390,1140 C395,1085 430,1045 490,1037 C530,1035 550,1055 550,1085 L550,1200"/>
<path d="M468,920 L468,420 C470,340 520,285 575,268 L615,270"/>
<path d="M468,920 C470,950 490,965 510,968"/>
<path d="M500,925 L500,430 C505,360 550,305 625,283 L655,297"/>
<path d="M500,925 C505,965 530,985 555,980 C590,970 610,945 615,925"/>
<path d="M478,415 L498,432"/>
<path d="M478,925 L500,940"/>
<path d="M622,272 C640,235 670,205 700,195 C720,195 728,205 728,225 L728,268 L690,292 L660,350 L655,385"/>
<path d="M635,272 C655,240 690,215 715,208"/>
<path d="M562,900 L562,385 Q565,362 585,360"/>
<path d="M570,880 L570,395" class="t"/>
<path d="M575,480 C640,545 690,640 695,720 C690,770 650,800 575,792"/>
<path d="M575,760 C600,790 650,790 685,745"/>
<path d="M580,822 C620,835 660,810 682,770"/>
<path d="M575,560 L600,555 L640,650 L610,705 L575,690"/>
<path d="M600,555 L578,640 L610,705"/>
<path d="M578,640 L640,650" class="t"/>
</g>
<g transform="translate(190,270) scale(0.125733)">
<path d="M205,90 L520,272"/>
<path d="M520,285 L780,437"/>
<path d="M205,500 L432,368"/>
<path d="M205,240 L395,345 L432,368"/>
<path d="M395,345 L520,272" class="b"/>
<path d="M408,352 L528,282" class="t"/>
</g>
<g transform="translate(190,400) scale(0.125733)">
<path d="M360,790 L430,757"/>
<path d="M405,760 L770,555" class="b"/>
<path d="M780,425 L780,545 L765,560"/>
<path d="M550,-100 L550,350 C552,395 580,425 625,425 C660,420 685,395 690,375"/>
<path d="M468,730 L468,620 C475,540 520,485 575,478 C615,478 632,500 632,530 L632,640"/>
<path d="M430,760 C445,800 470,880 465,960 C455,1060 400,1140 300,1193"/>
<path d="M432,760 L432,935"/>
<path d="M205,1055 L425,935"/>
<path d="M425,935 C425,1000 415,1080 380,1130"/>
<path d="M780,430 L1193,660"/>
</g>
<g transform="translate(0,100) scale(0.251467)">
<path d="M752,362 C790,348 850,345 905,370"/>
</g>
<g transform="translate(0,0) scale(1.000000)">
<path d="M47.0,631.5 L47.0,183.5 L47.2,180.0 L47.6,176.6 L48.4,173.6 L49.4,170.7 L50.8,168.2 L52.4,166.1 L54.3,164.2 L56.4,162.8 L58.7,161.7 L61.2,161.0 L63.9,160.6 L66.8,160.7 L69.7,161.2 L72.8,162.1 L75.9,163.4 L79.0,165.0 L151.6,206.2 L154.7,208.2 L157.8,210.5 L160.9,213.2 L163.8,216.1 L166.7,219.3 L169.4,222.7 L171.9,226.3 L174.2,230.1 L176.3,234.0 L178.2,238.0 L179.8,242.1 L181.2,246.1 L182.2,250.2 L183.0,254.1 L183.4,258.0 L183.6,261.7 L183.6,650.0 L214.5,650.0 L214.5,243.0 L214.5,243.8 L214.3,240.1 L213.9,236.2 L213.1,232.3 L212.1,228.2 L210.7,224.2 L209.1,220.1 L207.2,216.1 L205.1,212.2 L202.8,208.4 L200.3,204.8 L197.6,201.4 L194.7,198.2 L191.8,195.3 L188.7,192.6 L185.6,190.3 L182.5,188.3 L109.9,147.1 L106.8,145.5 L103.7,144.2 L100.6,143.3 L97.7,142.8 L94.8,142.7 L92.1,143.1 L89.6,143.8 L87.3,144.9 Z" class="w"/>
<path d="M47.0,631.5 L47.0,183.5 L47.2,180.0 L47.6,176.6 L48.4,173.6 L49.4,170.7 L50.8,168.2 L52.4,166.1 L54.3,164.2 L56.4,162.8 L58.7,161.7 L61.2,161.0 L63.9,160.6 L66.8,160.7 L69.7,161.2 L72.8,162.1 L75.9,163.4 L79.0,165.0 L151.6,206.2 L154.7,208.2 L157.8,210.5 L160.9,213.2 L163.8,216.1 L166.7,219.3 L169.4,222.7 L171.9,226.3 L174.2,230.1 L176.3,234.0 L178.2,238.0 L179.8,242.1 L181.2,246.1 L182.2,250.2 L183.0,254.1 L183.4,258.0 L183.6,261.7 L183.6,675.6"/>
<path d="M56.4,162.8 L87.3,144.9"/>
<path d="M87.3,144.9 L89.6,143.8 L92.1,143.1 L94.8,142.7 L97.7,142.8 L100.6,143.3 L103.7,144.2 L106.8,145.5 L109.9,147.1 L182.5,188.3 L185.6,190.3 L188.7,192.6 L191.8,195.3 L194.7,198.2 L197.6,201.4 L200.3,204.8 L202.8,208.4 L205.1,212.2 L207.2,216.1 L209.1,220.1 L210.7,224.2 L212.1,228.2 L213.1,232.3 L213.9,236.2 L214.3,240.1 L214.5,243.8 L214.5,332.9"/>
<path d="M79.0,165.0 L109.9,147.1"/>
<path d="M151.6,206.2 L182.5,188.3"/>
<path d="M183.6,261.7 L214.5,243.8"/>
<path d="M47,271 Q41,272 40.5,277.5 L40.5,344.5 L47,348.5"/>
<path d="M43.3,275 L43.3,346.2"/>
<path d="M40.2,379.9 L40.3,377.7 L40.6,375.7 L41.1,373.9 L41.8,372.2 L42.7,370.7 L43.8,369.5 L45.0,368.4 L46.3,367.6 L65.7,356.4 L67.2,355.9 L68.8,355.6 L70.5,355.6 L72.3,355.9 L74.2,356.4 L76.1,357.1 L78.0,358.1 L79.9,359.3 L81.8,360.8 L83.7,362.4 L85.5,364.2 L87.2,366.2 L88.8,368.4 L90.3,370.6 L91.6,373.0 L92.8,375.4 L93.9,377.9 L94.8,380.4 L95.5,382.8 L96.0,385.3 L96.3,387.6 L96.4,389.9 L96.3,392.1 L96.0,394.1 L95.5,395.9 L94.8,397.6 L93.9,399.1 L92.8,400.3 L91.6,401.4 L90.3,402.1 L70.9,413.4 L69.4,413.9 L67.8,414.2 L66.1,414.2 L64.3,413.9 L62.4,413.4 L60.5,412.7 L58.6,411.7 L56.7,410.5 L54.8,409.0 L52.9,407.4 L51.1,405.6 L49.4,403.6 L47.8,401.4 L46.3,399.2 L45.0,396.8 L43.8,394.4 L42.7,391.9 L41.8,389.4 L41.1,387.0 L40.6,384.5 L40.3,382.2 Z" class="w"/>
<path d="M68.1,373.6 L68.2,372.4 L68.3,371.4 L68.6,370.4 L69.0,369.5 L69.5,368.7 L70.0,368.0 L70.7,367.4 L71.4,367.0 L103.5,348.5 L104.3,348.2 L105.2,348.0 L106.1,348.0 L107.1,348.1 L108.1,348.4 L109.1,348.8 L110.1,349.4 L111.2,350.0 L112.2,350.8 L113.2,351.7 L114.1,352.6 L115.1,353.7 L115.9,354.9 L116.7,356.1 L117.5,357.4 L118.1,358.7 L118.7,360.0 L119.2,361.3 L119.5,362.6 L119.8,364.0 L120.0,365.2 L120.0,366.4 L120.0,367.6 L119.8,368.7 L119.5,369.7 L119.2,370.6 L118.7,371.4 L118.1,372.1 L117.5,372.6 L116.7,373.0 L84.6,391.6 L83.8,391.9 L82.9,392.0 L82.0,392.0 L81.0,391.9 L80.0,391.6 L79.0,391.2 L78.0,390.7 L77.0,390.0 L76.0,389.3 L75.0,388.4 L74.0,387.4 L73.1,386.3 L72.2,385.2 L71.4,384.0 L70.7,382.7 L70.0,381.4 L69.5,380.1 L69.0,378.7 L68.6,377.4 L68.3,376.1 L68.2,374.8 Z" class="w"/>
<path d="M58.6,411.7 L60.5,412.7 L62.4,413.4 L64.3,413.9 L66.1,414.2 L67.8,414.2 L69.4,413.9 L70.9,413.3 L72.2,412.6 L73.5,411.5 L74.5,410.3 L75.4,408.8 L76.1,407.1 L76.6,405.3 L76.9,403.3 L77.0,401.1 L76.9,398.8 L76.6,396.5 L76.1,394.0 L75.4,391.6 L74.5,389.1 L73.5,386.6 L72.2,384.2 L70.9,381.8 L69.4,379.6 L67.8,377.4 L66.1,375.4 L64.3,373.6 L62.4,372.0 L60.5,370.5 L58.6,369.3 L56.7,368.3 L54.8,367.6 L52.9,367.1 L51.1,366.8 L49.4,366.8 L47.8,367.1 L46.3,367.7 L45.0,368.4 L43.7,369.5 L42.7,370.7 L41.8,372.2 L41.1,373.9 L40.6,375.7 L40.3,377.7 L40.2,379.9 L40.3,382.2 L40.6,384.5 L41.1,387.0 L41.8,389.4 L42.7,391.9 L43.7,394.4 L45.0,396.8 L46.3,399.2 L47.8,401.4 L49.4,403.6 L51.1,405.6 L52.9,407.4 L54.8,409.0 L56.7,410.5 L58.6,411.7 Z"/>
<path d="M57.4,409.7 L59.1,410.6 L60.7,411.2 L62.3,411.6 L63.8,411.8 L65.3,411.8 L66.7,411.6 L68.0,411.1 L69.2,410.4 L70.2,409.6 L71.1,408.5 L71.9,407.2 L72.5,405.8 L72.9,404.2 L73.2,402.4 L73.2,400.5 L73.2,398.6 L72.9,396.5 L72.5,394.4 L71.9,392.3 L71.1,390.2 L70.2,388.0 L69.2,386.0 L68.0,383.9 L66.7,382.0 L65.3,380.1 L63.8,378.4 L62.3,376.8 L60.7,375.4 L59.1,374.2 L57.4,373.1 L55.7,372.2 L54.1,371.6 L52.5,371.2 L51.0,371.0 L49.5,371.0 L48.1,371.2 L46.8,371.7 L45.6,372.4 L44.6,373.2 L43.7,374.3 L42.9,375.6 L42.3,377.0 L41.9,378.6 L41.6,380.4 L41.6,382.2 L41.6,384.2 L41.9,386.3 L42.3,388.4 L42.9,390.5 L43.7,392.6 L44.6,394.8 L45.6,396.8 L46.8,398.9 L48.1,400.8 L49.5,402.7 L51.0,404.4 L52.5,406.0 L54.1,407.4 L55.7,408.6 L57.4,409.7 Z"/>
<path d="M51.9,379.4 L61.4,385.2 L66.2,397.2 L61.2,404.3 L51.9,398.7 L47.1,386.2 Z"/>
<path d="M51.9,379.4 L56.1,382.6 L59.1,392.9 L66.2,397.2"/>
<path d="M50.1,384.0 L56.1,382.6"/>
<path d="M59.1,392.9 L52.1,397.7"/>
<path d="M45.6,368.0 L65.0,356.8"/>
<path d="M71.6,413.0 L91.0,401.8"/>
<path d="M91.0,401.8 L92.3,400.9 L93.4,399.7 L94.4,398.4 L95.1,396.8 L95.7,395.0 L96.1,393.1 L96.3,391.0 L96.3,388.8 L96.1,386.5 L95.7,384.1 L95.1,381.6 L94.4,379.1 L93.4,376.6 L92.3,374.2 L91.0,371.8 L89.6,369.5 L88.0,367.3 L86.3,365.2 L84.6,363.3 L82.8,361.6 L80.9,360.0 L79.0,358.7 L77.0,357.6 L75.1,356.7 L73.2,356.1 L71.4,355.7 L69.7,355.6 L68.0,355.7 L66.4,356.2 L65.0,356.8"/>
<path d="M82.0,360.9 L103.2,348.7"/>
<path d="M95.9,385.1 L117.1,372.8"/>
<path d="M117.1,372.8 L117.8,372.4 L118.4,371.7 L118.9,371.0 L119.3,370.2 L119.7,369.2 L119.9,368.2 L120.0,367.0 L120.0,365.8 L119.9,364.6 L119.7,363.3 L119.3,362.0 L118.9,360.7 L118.4,359.3 L117.8,358.0 L117.1,356.7 L116.3,355.5 L115.5,354.3 L114.6,353.2 L113.7,352.1 L112.7,351.2 L111.7,350.4 L110.6,349.7 L109.6,349.1 L108.6,348.6 L107.6,348.3 L106.6,348.1 L105.6,348.0 L104.8,348.1 L103.9,348.3 L103.1,348.7"/>
<path d="M109.7,377.1 L111.8,378.8 L113.8,380.3 L115.9,381.5 L118.0,382.4 L120.1,383.1 L122.0,383.5 L124.0,383.7 L125.8,383.5 L127.5,383.1 L129.0,382.4 L130.4,381.4 L131.7,380.2 L132.7,378.7 L133.6,377.0 L134.2,375.1 L134.6,372.9 L134.9,370.7 L134.9,368.3 L134.7,365.7 L134.2,363.1 L133.6,360.5 L132.7,357.8 L131.7,355.1 L130.5,352.4 L129.1,349.8 L127.5,347.3 L125.8,344.9 L124.0,342.7 L122.1,340.6 L120.1,338.7 L118.1,337.0 L116.0,335.6 L113.9,334.4 L111.8,333.4 L109.8,332.7 L107.8,332.4 L105.9,332.2 L104.1,332.4 L102.4,332.9 L100.8,333.6 L99.5,334.6 L98.2,335.8 L97.2,337.3 L96.4,339.0 L95.7,341.0 L95.3,343.1 L95.1,345.4 L95.1,347.8 L95.3,350.3 L95.8,352.9"/>
<path d="M133.6,365.8 L133.1,363.0 L132.4,360.1 L131.4,357.2 L130.1,354.3 L128.7,351.4 L127.1,348.7 L125.3,346.1 L123.4,343.6 L121.3,341.3 L119.2,339.3"/>
<path d="M40.2,491.9 L40.3,489.7 L40.6,487.7 L41.1,485.9 L41.8,484.2 L42.7,482.7 L43.8,481.5 L45.0,480.4 L46.3,479.6 L65.7,468.4 L67.2,467.9 L68.8,467.6 L70.5,467.6 L72.3,467.9 L74.2,468.4 L76.1,469.1 L78.0,470.1 L79.9,471.3 L81.8,472.8 L83.7,474.4 L85.5,476.2 L87.2,478.2 L88.8,480.4 L90.3,482.6 L91.6,485.0 L92.8,487.4 L93.9,489.9 L94.8,492.4 L95.5,494.8 L96.0,497.3 L96.3,499.6 L96.4,501.9 L96.3,504.1 L96.0,506.1 L95.5,507.9 L94.8,509.6 L93.9,511.1 L92.8,512.3 L91.6,513.4 L90.3,514.1 L70.9,525.4 L69.4,525.9 L67.8,526.2 L66.1,526.2 L64.3,525.9 L62.4,525.4 L60.5,524.7 L58.6,523.7 L56.7,522.5 L54.8,521.0 L52.9,519.4 L51.1,517.6 L49.4,515.6 L47.8,513.4 L46.3,511.2 L45.0,508.8 L43.8,506.4 L42.7,503.9 L41.8,501.4 L41.1,499.0 L40.6,496.5 L40.3,494.2 Z" class="w"/>
<path d="M68.1,485.6 L68.2,484.4 L68.3,483.4 L68.6,482.4 L69.0,481.5 L69.5,480.7 L70.0,480.0 L70.7,479.4 L71.4,479.0 L103.5,460.5 L104.3,460.2 L105.2,460.0 L106.1,460.0 L107.1,460.1 L108.1,460.4 L109.1,460.8 L110.1,461.4 L111.2,462.0 L112.2,462.8 L113.2,463.7 L114.1,464.6 L115.1,465.7 L115.9,466.9 L116.7,468.1 L117.5,469.4 L118.1,470.7 L118.7,472.0 L119.2,473.3 L119.5,474.6 L119.8,476.0 L120.0,477.2 L120.0,478.4 L120.0,479.6 L119.8,480.7 L119.5,481.7 L119.2,482.6 L118.7,483.4 L118.1,484.1 L117.5,484.6 L116.7,485.0 L84.6,503.6 L83.8,503.9 L82.9,504.0 L82.0,504.0 L81.0,503.9 L80.0,503.6 L79.0,503.2 L78.0,502.7 L77.0,502.0 L76.0,501.3 L75.0,500.4 L74.0,499.4 L73.1,498.3 L72.2,497.2 L71.4,496.0 L70.7,494.7 L70.0,493.4 L69.5,492.1 L69.0,490.7 L68.6,489.4 L68.3,488.1 L68.2,486.8 Z" class="w"/>
<path d="M58.6,523.7 L60.5,524.7 L62.4,525.4 L64.3,525.9 L66.1,526.2 L67.8,526.2 L69.4,525.9 L70.9,525.3 L72.2,524.6 L73.5,523.5 L74.5,522.3 L75.4,520.8 L76.1,519.1 L76.6,517.3 L76.9,515.3 L77.0,513.1 L76.9,510.8 L76.6,508.5 L76.1,506.0 L75.4,503.6 L74.5,501.1 L73.5,498.6 L72.2,496.2 L70.9,493.8 L69.4,491.6 L67.8,489.4 L66.1,487.4 L64.3,485.6 L62.4,484.0 L60.5,482.5 L58.6,481.3 L56.7,480.3 L54.8,479.6 L52.9,479.1 L51.1,478.8 L49.4,478.8 L47.8,479.1 L46.3,479.7 L45.0,480.4 L43.7,481.5 L42.7,482.7 L41.8,484.2 L41.1,485.9 L40.6,487.7 L40.3,489.7 L40.2,491.9 L40.3,494.2 L40.6,496.5 L41.1,499.0 L41.8,501.4 L42.7,503.9 L43.7,506.4 L45.0,508.8 L46.3,511.2 L47.8,513.4 L49.4,515.6 L51.1,517.6 L52.9,519.4 L54.8,521.0 L56.7,522.5 L58.6,523.7 Z"/>
<path d="M57.4,521.7 L59.1,522.6 L60.7,523.2 L62.3,523.6 L63.8,523.8 L65.3,523.8 L66.7,523.6 L68.0,523.1 L69.2,522.4 L70.2,521.6 L71.1,520.5 L71.9,519.2 L72.5,517.8 L72.9,516.2 L73.2,514.4 L73.2,512.5 L73.2,510.6 L72.9,508.5 L72.5,506.4 L71.9,504.3 L71.1,502.2 L70.2,500.0 L69.2,498.0 L68.0,495.9 L66.7,494.0 L65.3,492.1 L63.8,490.4 L62.3,488.8 L60.7,487.4 L59.1,486.2 L57.4,485.1 L55.7,484.2 L54.1,483.6 L52.5,483.2 L51.0,483.0 L49.5,483.0 L48.1,483.2 L46.8,483.7 L45.6,484.4 L44.6,485.2 L43.7,486.3 L42.9,487.6 L42.3,489.0 L41.9,490.6 L41.6,492.4 L41.6,494.2 L41.6,496.2 L41.9,498.3 L42.3,500.4 L42.9,502.5 L43.7,504.6 L44.6,506.8 L45.6,508.8 L46.8,510.9 L48.1,512.8 L49.5,514.7 L51.0,516.4 L52.5,518.0 L54.1,519.4 L55.7,520.6 L57.4,521.7 Z"/>
<path d="M51.9,491.4 L61.4,497.2 L66.2,509.2 L61.2,516.3 L51.9,510.7 L47.1,498.2 Z"/>
<path d="M51.9,491.4 L56.1,494.6 L59.1,504.9 L66.2,509.2"/>
<path d="M50.1,496.0 L56.1,494.6"/>
<path d="M59.1,504.9 L52.1,509.7"/>
<path d="M45.6,480.0 L65.0,468.8"/>
<path d="M71.6,525.0 L91.0,513.8"/>
<path d="M91.0,513.8 L92.3,512.9 L93.4,511.7 L94.4,510.4 L95.1,508.8 L95.7,507.0 L96.1,505.1 L96.3,503.0 L96.3,500.8 L96.1,498.5 L95.7,496.1 L95.1,493.6 L94.4,491.1 L93.4,488.6 L92.3,486.2 L91.0,483.8 L89.6,481.5 L88.0,479.3 L86.3,477.2 L84.6,475.3 L82.8,473.6 L80.9,472.0 L79.0,470.7 L77.0,469.6 L75.1,468.7 L73.2,468.1 L71.4,467.7 L69.7,467.6 L68.0,467.7 L66.4,468.2 L65.0,468.8"/>
<path d="M82.0,472.9 L103.2,460.7"/>
<path d="M95.9,497.1 L117.1,484.8"/>
<path d="M117.1,484.8 L117.8,484.4 L118.4,483.7 L118.9,483.0 L119.3,482.2 L119.7,481.2 L119.9,480.2 L120.0,479.0 L120.0,477.8 L119.9,476.6 L119.7,475.3 L119.3,474.0 L118.9,472.7 L118.4,471.3 L117.8,470.0 L117.1,468.7 L116.3,467.5 L115.5,466.3 L114.6,465.2 L113.7,464.1 L112.7,463.2 L111.7,462.4 L110.6,461.7 L109.6,461.1 L108.6,460.6 L107.6,460.3 L106.6,460.1 L105.6,460.0 L104.8,460.1 L103.9,460.3 L103.1,460.7"/>
<path d="M109.7,489.1 L111.8,490.8 L113.8,492.3 L115.9,493.5 L118.0,494.4 L120.1,495.1 L122.0,495.5 L124.0,495.7 L125.8,495.5 L127.5,495.1 L129.0,494.4 L130.4,493.4 L131.7,492.2 L132.7,490.7 L133.6,489.0 L134.2,487.1 L134.6,484.9 L134.9,482.7 L134.9,480.3 L134.7,477.7 L134.2,475.1 L133.6,472.5 L132.7,469.8 L131.7,467.1 L130.5,464.4 L129.1,461.8 L127.5,459.3 L125.8,456.9 L124.0,454.7 L122.1,452.6 L120.1,450.7 L118.1,449.0 L116.0,447.6 L113.9,446.4 L111.8,445.4 L109.8,444.7 L107.8,444.4 L105.9,444.2 L104.1,444.4 L102.4,444.9 L100.8,445.6 L99.5,446.6 L98.2,447.8 L97.2,449.3 L96.4,451.0 L95.7,453.0 L95.3,455.1 L95.1,457.4 L95.1,459.8 L95.3,462.3 L95.8,464.9"/>
<path d="M133.6,477.8 L133.1,475.0 L132.4,472.1 L131.4,469.2 L130.1,466.3 L128.7,463.4 L127.1,460.7 L125.3,458.1 L123.4,455.6 L121.3,453.3 L119.2,451.3"/>
</g>
<g transform="translate(0,0) scale(1.000000)">
<path d="M275.1,590.9 L233.1,600.6 L242.9,642.4 M233.1,600.6 L326.4,659 M316.9,616.7 L326.4,659 L284.9,668.7" class="ar"/>
<path d="M875.9,402.7 L833.4,396.1 L827.4,436.1 M833.4,396.1 L917.3,510.2 M923.3,469.9 L917.3,510.2 L874.3,503.7" class="ar"/>
</g>
</svg>
</body></html>
